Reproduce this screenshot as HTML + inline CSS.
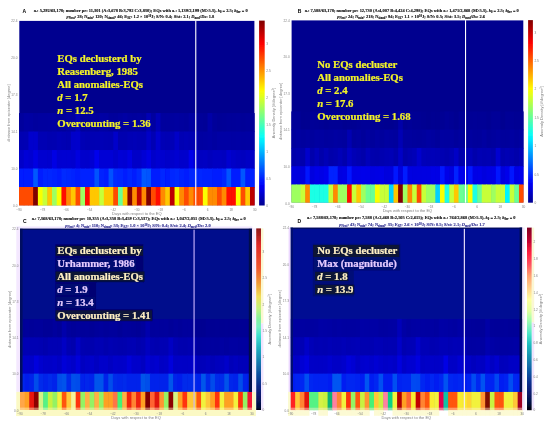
<!DOCTYPE html>
<html lang="en">
<head>
<meta charset="utf-8">
<title>Anomaly density heatmaps</title>
<style>
html,body{margin:0;padding:0;background:#fff;}
body{width:550px;height:425px;overflow:hidden;position:relative;}
svg{position:absolute;left:0;top:0;display:block;}
text{white-space:pre;}
</style>
</head>
<body>
<svg width="550" height="425" viewBox="0 0 550 425">
<defs>
<linearGradient id="gA" x1="0" y1="0" x2="0" y2="1"><stop offset="0.0000" stop-color="#800000"/><stop offset="0.0312" stop-color="#9f0000"/><stop offset="0.0625" stop-color="#be0000"/><stop offset="0.0938" stop-color="#de0000"/><stop offset="0.1250" stop-color="#fd0000"/><stop offset="0.1562" stop-color="#ff1d00"/><stop offset="0.1875" stop-color="#ff3d00"/><stop offset="0.2188" stop-color="#ff5c00"/><stop offset="0.2500" stop-color="#ff7c00"/><stop offset="0.2812" stop-color="#ff9b00"/><stop offset="0.3125" stop-color="#ffba00"/><stop offset="0.3438" stop-color="#ffda00"/><stop offset="0.3750" stop-color="#fff900"/><stop offset="0.4062" stop-color="#e5ff1a"/><stop offset="0.4375" stop-color="#c6ff39"/><stop offset="0.4688" stop-color="#a7ff58"/><stop offset="0.5000" stop-color="#87ff78"/><stop offset="0.5312" stop-color="#68ff97"/><stop offset="0.5625" stop-color="#48ffb7"/><stop offset="0.5938" stop-color="#29ffd6"/><stop offset="0.6250" stop-color="#0afff5"/><stop offset="0.6562" stop-color="#00e9ff"/><stop offset="0.6875" stop-color="#00caff"/><stop offset="0.7188" stop-color="#00aaff"/><stop offset="0.7500" stop-color="#008bff"/><stop offset="0.7812" stop-color="#006cff"/><stop offset="0.8125" stop-color="#004cff"/><stop offset="0.8438" stop-color="#002dff"/><stop offset="0.8750" stop-color="#000dff"/><stop offset="0.9062" stop-color="#0000ed"/><stop offset="0.9375" stop-color="#0000ce"/><stop offset="0.9688" stop-color="#0000ae"/><stop offset="1.0000" stop-color="#00008f"/></linearGradient>
<linearGradient id="gB" x1="0" y1="0" x2="0" y2="1"><stop offset="0.0000" stop-color="#800000"/><stop offset="0.0312" stop-color="#9f0000"/><stop offset="0.0625" stop-color="#be0000"/><stop offset="0.0938" stop-color="#de0000"/><stop offset="0.1250" stop-color="#fd0000"/><stop offset="0.1562" stop-color="#ff1d00"/><stop offset="0.1875" stop-color="#ff3d00"/><stop offset="0.2188" stop-color="#ff5c00"/><stop offset="0.2500" stop-color="#ff7c00"/><stop offset="0.2812" stop-color="#ff9b00"/><stop offset="0.3125" stop-color="#ffba00"/><stop offset="0.3438" stop-color="#ffda00"/><stop offset="0.3750" stop-color="#fff900"/><stop offset="0.4062" stop-color="#e5ff1a"/><stop offset="0.4375" stop-color="#c6ff39"/><stop offset="0.4688" stop-color="#a7ff58"/><stop offset="0.5000" stop-color="#87ff78"/><stop offset="0.5312" stop-color="#68ff97"/><stop offset="0.5625" stop-color="#48ffb7"/><stop offset="0.5938" stop-color="#29ffd6"/><stop offset="0.6250" stop-color="#0afff5"/><stop offset="0.6562" stop-color="#00e9ff"/><stop offset="0.6875" stop-color="#00caff"/><stop offset="0.7188" stop-color="#00aaff"/><stop offset="0.7500" stop-color="#008bff"/><stop offset="0.7812" stop-color="#006cff"/><stop offset="0.8125" stop-color="#004cff"/><stop offset="0.8438" stop-color="#002dff"/><stop offset="0.8750" stop-color="#000dff"/><stop offset="0.9062" stop-color="#0000ed"/><stop offset="0.9375" stop-color="#0000ce"/><stop offset="0.9688" stop-color="#0000ae"/><stop offset="1.0000" stop-color="#00008f"/></linearGradient>
<linearGradient id="gC" x1="0" y1="0" x2="0" y2="1"><stop offset="0" stop-color="#8c1818"/><stop offset="0.09" stop-color="#e02828"/><stop offset="0.22" stop-color="#f05830"/><stop offset="0.3" stop-color="#f09838"/><stop offset="0.375" stop-color="#f0dc58"/><stop offset="0.44" stop-color="#c4f07c"/><stop offset="0.5" stop-color="#84f0a0"/><stop offset="0.542" stop-color="#78f0c0"/><stop offset="0.59" stop-color="#40e0d0"/><stop offset="0.66" stop-color="#20b0c0"/><stop offset="0.73" stop-color="#1880b0"/><stop offset="0.8" stop-color="#1050a0"/><stop offset="0.87" stop-color="#102888"/><stop offset="0.928" stop-color="#081868"/><stop offset="0.987" stop-color="#040c38"/><stop offset="1" stop-color="#000008"/></linearGradient>
<linearGradient id="gD" x1="0" y1="0" x2="0" y2="1"><stop offset="0" stop-color="#800020"/><stop offset="0.072" stop-color="#c00030"/><stop offset="0.137" stop-color="#ff2040"/><stop offset="0.2" stop-color="#ff5060"/><stop offset="0.265" stop-color="#ffa070"/><stop offset="0.342" stop-color="#ffd890"/><stop offset="0.394" stop-color="#ffffa0"/><stop offset="0.459" stop-color="#e0ffa0"/><stop offset="0.51" stop-color="#a0ffb0"/><stop offset="0.535" stop-color="#88f4bc"/><stop offset="0.58" stop-color="#50e8c8"/><stop offset="0.637" stop-color="#20c0c0"/><stop offset="0.707" stop-color="#1890b0"/><stop offset="0.777" stop-color="#1060a8"/><stop offset="0.847" stop-color="#103090"/><stop offset="0.905" stop-color="#081c70"/><stop offset="0.963" stop-color="#041040"/><stop offset="0.992" stop-color="#000010"/><stop offset="1" stop-color="#000008"/></linearGradient>
<filter id="glow" x="-10%" y="-30%" width="120%" height="160%"><feGaussianBlur stdDeviation="0.5"/></filter>
<filter id="tsoft" x="-2%" y="-2%" width="104%" height="104%"><feGaussianBlur stdDeviation="0.28"/></filter>
<filter id="soft" x="-2%" y="-2%" width="104%" height="104%"><feGaussianBlur stdDeviation="0.35"/></filter>
</defs>
<rect x="0" y="0" width="550" height="425" fill="#ffffff"/>
<g filter="url(#soft)">
<rect x="19.30" y="20.90" width="235.10" height="184.30" fill="#00008f"/>
<rect x="19.00" y="113.05" width="5.31" height="18.99" fill="#00009d"/>
<rect x="23.71" y="113.05" width="5.31" height="18.99" fill="#0000a3"/>
<rect x="28.43" y="113.05" width="5.31" height="18.99" fill="#0000a2"/>
<rect x="33.14" y="113.05" width="5.31" height="18.99" fill="#00009e"/>
<rect x="37.86" y="113.05" width="5.31" height="18.99" fill="#0000a0"/>
<rect x="42.57" y="113.05" width="5.31" height="18.99" fill="#0000a0"/>
<rect x="47.28" y="113.05" width="5.31" height="18.99" fill="#0000a1"/>
<rect x="52.00" y="113.05" width="5.31" height="18.99" fill="#0000a2"/>
<rect x="56.71" y="113.05" width="5.31" height="18.99" fill="#00009d"/>
<rect x="61.43" y="113.05" width="5.31" height="18.99" fill="#00009c"/>
<rect x="66.14" y="113.05" width="5.31" height="18.99" fill="#0000a3"/>
<rect x="70.85" y="113.05" width="5.31" height="18.99" fill="#0000a0"/>
<rect x="75.57" y="113.05" width="5.31" height="18.99" fill="#0000b9"/>
<rect x="80.28" y="113.05" width="5.31" height="18.99" fill="#00009c"/>
<rect x="85.00" y="113.05" width="5.31" height="18.99" fill="#0000a0"/>
<rect x="89.71" y="113.05" width="5.31" height="18.99" fill="#0000a2"/>
<rect x="94.42" y="113.05" width="5.31" height="18.99" fill="#00009e"/>
<rect x="99.14" y="113.05" width="5.31" height="18.99" fill="#0000a4"/>
<rect x="103.85" y="113.05" width="5.31" height="18.99" fill="#0000a3"/>
<rect x="108.57" y="113.05" width="5.31" height="18.99" fill="#00009c"/>
<rect x="113.28" y="113.05" width="5.31" height="18.99" fill="#00009c"/>
<rect x="117.99" y="113.05" width="5.31" height="18.99" fill="#0000a0"/>
<rect x="122.71" y="113.05" width="5.31" height="18.99" fill="#0000a4"/>
<rect x="127.42" y="113.05" width="5.31" height="18.99" fill="#00009f"/>
<rect x="132.14" y="113.05" width="5.31" height="18.99" fill="#00009e"/>
<rect x="136.85" y="113.05" width="5.31" height="18.99" fill="#0000a0"/>
<rect x="141.56" y="113.05" width="5.31" height="18.99" fill="#00009c"/>
<rect x="146.28" y="113.05" width="5.31" height="18.99" fill="#0000b4"/>
<rect x="150.99" y="113.05" width="5.31" height="18.99" fill="#0000a0"/>
<rect x="155.71" y="113.05" width="5.31" height="18.99" fill="#0000b7"/>
<rect x="160.42" y="113.05" width="5.31" height="18.99" fill="#00009e"/>
<rect x="165.13" y="113.05" width="5.31" height="18.99" fill="#00009e"/>
<rect x="169.85" y="113.05" width="5.31" height="18.99" fill="#00009e"/>
<rect x="174.56" y="113.05" width="5.31" height="18.99" fill="#0000a0"/>
<rect x="179.28" y="113.05" width="5.31" height="18.99" fill="#00009e"/>
<rect x="183.99" y="113.05" width="5.31" height="18.99" fill="#00009c"/>
<rect x="188.70" y="113.05" width="5.31" height="18.99" fill="#0000a3"/>
<rect x="193.42" y="113.05" width="5.31" height="18.99" fill="#0000a1"/>
<rect x="198.13" y="113.05" width="5.31" height="18.99" fill="#000099"/>
<rect x="202.85" y="113.05" width="5.31" height="18.99" fill="#000097"/>
<rect x="207.56" y="113.05" width="5.31" height="18.99" fill="#0000a7"/>
<rect x="212.27" y="113.05" width="5.31" height="18.99" fill="#00009a"/>
<rect x="216.99" y="113.05" width="5.31" height="18.99" fill="#000097"/>
<rect x="221.70" y="113.05" width="5.31" height="18.99" fill="#000098"/>
<rect x="226.42" y="113.05" width="5.31" height="18.99" fill="#00009a"/>
<rect x="231.13" y="113.05" width="5.31" height="18.99" fill="#00009a"/>
<rect x="235.84" y="113.05" width="5.31" height="18.99" fill="#00009b"/>
<rect x="240.56" y="113.05" width="5.31" height="18.99" fill="#000098"/>
<rect x="245.27" y="113.05" width="5.31" height="18.99" fill="#00009a"/>
<rect x="249.99" y="113.05" width="4.71" height="18.99" fill="#000099"/>
<rect x="19.00" y="131.54" width="5.31" height="18.99" fill="#0000b2"/>
<rect x="23.71" y="131.54" width="5.31" height="18.99" fill="#0000b4"/>
<rect x="28.43" y="131.54" width="5.31" height="18.99" fill="#0000cd"/>
<rect x="33.14" y="131.54" width="5.31" height="18.99" fill="#0000cd"/>
<rect x="37.86" y="131.54" width="5.31" height="18.99" fill="#0000b4"/>
<rect x="42.57" y="131.54" width="5.31" height="18.99" fill="#0000b4"/>
<rect x="47.28" y="131.54" width="5.31" height="18.99" fill="#0000b0"/>
<rect x="52.00" y="131.54" width="5.31" height="18.99" fill="#0000b1"/>
<rect x="56.71" y="131.54" width="5.31" height="18.99" fill="#0000b6"/>
<rect x="61.43" y="131.54" width="5.31" height="18.99" fill="#0000b3"/>
<rect x="66.14" y="131.54" width="5.31" height="18.99" fill="#0000b1"/>
<rect x="70.85" y="131.54" width="5.31" height="18.99" fill="#0000ca"/>
<rect x="75.57" y="131.54" width="5.31" height="18.99" fill="#0000cc"/>
<rect x="80.28" y="131.54" width="5.31" height="18.99" fill="#0000b5"/>
<rect x="85.00" y="131.54" width="5.31" height="18.99" fill="#0000b2"/>
<rect x="89.71" y="131.54" width="5.31" height="18.99" fill="#0000b3"/>
<rect x="94.42" y="131.54" width="5.31" height="18.99" fill="#0000b4"/>
<rect x="99.14" y="131.54" width="5.31" height="18.99" fill="#0000b6"/>
<rect x="103.85" y="131.54" width="5.31" height="18.99" fill="#0000b4"/>
<rect x="108.57" y="131.54" width="5.31" height="18.99" fill="#0000b3"/>
<rect x="113.28" y="131.54" width="5.31" height="18.99" fill="#0000ca"/>
<rect x="117.99" y="131.54" width="5.31" height="18.99" fill="#0000b0"/>
<rect x="122.71" y="131.54" width="5.31" height="18.99" fill="#0000b0"/>
<rect x="127.42" y="131.54" width="5.31" height="18.99" fill="#0000b5"/>
<rect x="132.14" y="131.54" width="5.31" height="18.99" fill="#0000b7"/>
<rect x="136.85" y="131.54" width="5.31" height="18.99" fill="#0000b4"/>
<rect x="141.56" y="131.54" width="5.31" height="18.99" fill="#0000b3"/>
<rect x="146.28" y="131.54" width="5.31" height="18.99" fill="#0000c7"/>
<rect x="150.99" y="131.54" width="5.31" height="18.99" fill="#0000b4"/>
<rect x="155.71" y="131.54" width="5.31" height="18.99" fill="#0000ce"/>
<rect x="160.42" y="131.54" width="5.31" height="18.99" fill="#0000b6"/>
<rect x="165.13" y="131.54" width="5.31" height="18.99" fill="#0000b4"/>
<rect x="169.85" y="131.54" width="5.31" height="18.99" fill="#0000b6"/>
<rect x="174.56" y="131.54" width="5.31" height="18.99" fill="#0000c8"/>
<rect x="179.28" y="131.54" width="5.31" height="18.99" fill="#0000b4"/>
<rect x="183.99" y="131.54" width="5.31" height="18.99" fill="#0000b7"/>
<rect x="188.70" y="131.54" width="5.31" height="18.99" fill="#0000b4"/>
<rect x="193.42" y="131.54" width="5.31" height="18.99" fill="#0000b3"/>
<rect x="198.13" y="131.54" width="5.31" height="18.99" fill="#0000a2"/>
<rect x="202.85" y="131.54" width="5.31" height="18.99" fill="#0000a3"/>
<rect x="207.56" y="131.54" width="5.31" height="18.99" fill="#0000a5"/>
<rect x="212.27" y="131.54" width="5.31" height="18.99" fill="#0000a1"/>
<rect x="216.99" y="131.54" width="5.31" height="18.99" fill="#0000a5"/>
<rect x="221.70" y="131.54" width="5.31" height="18.99" fill="#0000a5"/>
<rect x="226.42" y="131.54" width="5.31" height="18.99" fill="#0000a5"/>
<rect x="231.13" y="131.54" width="5.31" height="18.99" fill="#0000a4"/>
<rect x="235.84" y="131.54" width="5.31" height="18.99" fill="#0000a5"/>
<rect x="240.56" y="131.54" width="5.31" height="18.99" fill="#0000a3"/>
<rect x="245.27" y="131.54" width="5.31" height="18.99" fill="#0000a4"/>
<rect x="249.99" y="131.54" width="4.71" height="18.99" fill="#0000a3"/>
<rect x="19.00" y="150.03" width="5.31" height="18.99" fill="#0000c9"/>
<rect x="23.71" y="150.03" width="5.31" height="18.99" fill="#0000d6"/>
<rect x="28.43" y="150.03" width="5.31" height="18.99" fill="#0000d1"/>
<rect x="33.14" y="150.03" width="5.31" height="18.99" fill="#0000e2"/>
<rect x="37.86" y="150.03" width="5.31" height="18.99" fill="#0000d0"/>
<rect x="42.57" y="150.03" width="5.31" height="18.99" fill="#0000d0"/>
<rect x="47.28" y="150.03" width="5.31" height="18.99" fill="#0000ce"/>
<rect x="52.00" y="150.03" width="5.31" height="18.99" fill="#0000e4"/>
<rect x="56.71" y="150.03" width="5.31" height="18.99" fill="#0000d1"/>
<rect x="61.43" y="150.03" width="5.31" height="18.99" fill="#0000d2"/>
<rect x="66.14" y="150.03" width="5.31" height="18.99" fill="#0000d2"/>
<rect x="70.85" y="150.03" width="5.31" height="18.99" fill="#0000cf"/>
<rect x="75.57" y="150.03" width="5.31" height="18.99" fill="#0000df"/>
<rect x="80.28" y="150.03" width="5.31" height="18.99" fill="#0000cc"/>
<rect x="85.00" y="150.03" width="5.31" height="18.99" fill="#0000cb"/>
<rect x="89.71" y="150.03" width="5.31" height="18.99" fill="#0000d1"/>
<rect x="94.42" y="150.03" width="5.31" height="18.99" fill="#0000ec"/>
<rect x="99.14" y="150.03" width="5.31" height="18.99" fill="#0000d5"/>
<rect x="103.85" y="150.03" width="5.31" height="18.99" fill="#0000d5"/>
<rect x="108.57" y="150.03" width="5.31" height="18.99" fill="#0000d5"/>
<rect x="113.28" y="150.03" width="5.31" height="18.99" fill="#0000cc"/>
<rect x="117.99" y="150.03" width="5.31" height="18.99" fill="#0000d6"/>
<rect x="122.71" y="150.03" width="5.31" height="18.99" fill="#0000d3"/>
<rect x="127.42" y="150.03" width="5.31" height="18.99" fill="#0000e0"/>
<rect x="132.14" y="150.03" width="5.31" height="18.99" fill="#0000c8"/>
<rect x="136.85" y="150.03" width="5.31" height="18.99" fill="#0000c8"/>
<rect x="141.56" y="150.03" width="5.31" height="18.99" fill="#0000d4"/>
<rect x="146.28" y="150.03" width="5.31" height="18.99" fill="#0000e2"/>
<rect x="150.99" y="150.03" width="5.31" height="18.99" fill="#0000ca"/>
<rect x="155.71" y="150.03" width="5.31" height="18.99" fill="#0000d2"/>
<rect x="160.42" y="150.03" width="5.31" height="18.99" fill="#0000ce"/>
<rect x="165.13" y="150.03" width="5.31" height="18.99" fill="#0000c9"/>
<rect x="169.85" y="150.03" width="5.31" height="18.99" fill="#0000cb"/>
<rect x="174.56" y="150.03" width="5.31" height="18.99" fill="#0000d1"/>
<rect x="179.28" y="150.03" width="5.31" height="18.99" fill="#0000cb"/>
<rect x="183.99" y="150.03" width="5.31" height="18.99" fill="#0000cc"/>
<rect x="188.70" y="150.03" width="5.31" height="18.99" fill="#0000ea"/>
<rect x="193.42" y="150.03" width="5.31" height="18.99" fill="#0000cf"/>
<rect x="198.13" y="150.03" width="5.31" height="18.99" fill="#0000c1"/>
<rect x="202.85" y="150.03" width="5.31" height="18.99" fill="#0000c3"/>
<rect x="207.56" y="150.03" width="5.31" height="18.99" fill="#0000bd"/>
<rect x="212.27" y="150.03" width="5.31" height="18.99" fill="#0000c2"/>
<rect x="216.99" y="150.03" width="5.31" height="18.99" fill="#0000c2"/>
<rect x="221.70" y="150.03" width="5.31" height="18.99" fill="#0000bf"/>
<rect x="226.42" y="150.03" width="5.31" height="18.99" fill="#0000d0"/>
<rect x="231.13" y="150.03" width="5.31" height="18.99" fill="#0000c8"/>
<rect x="235.84" y="150.03" width="5.31" height="18.99" fill="#0000c3"/>
<rect x="240.56" y="150.03" width="5.31" height="18.99" fill="#0000bf"/>
<rect x="245.27" y="150.03" width="5.31" height="18.99" fill="#0000c5"/>
<rect x="249.99" y="150.03" width="4.71" height="18.99" fill="#0000c7"/>
<rect x="19.00" y="168.52" width="5.31" height="18.99" fill="#001aff"/>
<rect x="23.71" y="168.52" width="5.31" height="18.99" fill="#001aff"/>
<rect x="28.43" y="168.52" width="5.31" height="18.99" fill="#001cff"/>
<rect x="33.14" y="168.52" width="5.31" height="18.99" fill="#0058ff"/>
<rect x="37.86" y="168.52" width="5.31" height="18.99" fill="#001cff"/>
<rect x="42.57" y="168.52" width="5.31" height="18.99" fill="#0025ff"/>
<rect x="47.28" y="168.52" width="5.31" height="18.99" fill="#0025ff"/>
<rect x="52.00" y="168.52" width="5.31" height="18.99" fill="#0022ff"/>
<rect x="56.71" y="168.52" width="5.31" height="18.99" fill="#001dff"/>
<rect x="61.43" y="168.52" width="5.31" height="18.99" fill="#0029ff"/>
<rect x="66.14" y="168.52" width="5.31" height="18.99" fill="#0027ff"/>
<rect x="70.85" y="168.52" width="5.31" height="18.99" fill="#0022ff"/>
<rect x="75.57" y="168.52" width="5.31" height="18.99" fill="#001dff"/>
<rect x="80.28" y="168.52" width="5.31" height="18.99" fill="#0024ff"/>
<rect x="85.00" y="168.52" width="5.31" height="18.99" fill="#0020ff"/>
<rect x="89.71" y="168.52" width="5.31" height="18.99" fill="#0023ff"/>
<rect x="94.42" y="168.52" width="5.31" height="18.99" fill="#0052ff"/>
<rect x="99.14" y="168.52" width="5.31" height="18.99" fill="#0024ff"/>
<rect x="103.85" y="168.52" width="5.31" height="18.99" fill="#001aff"/>
<rect x="108.57" y="168.52" width="5.31" height="18.99" fill="#0051ff"/>
<rect x="113.28" y="168.52" width="5.31" height="18.99" fill="#0029ff"/>
<rect x="117.99" y="168.52" width="5.31" height="18.99" fill="#0028ff"/>
<rect x="122.71" y="168.52" width="5.31" height="18.99" fill="#001fff"/>
<rect x="127.42" y="168.52" width="5.31" height="18.99" fill="#0028ff"/>
<rect x="132.14" y="168.52" width="5.31" height="18.99" fill="#001fff"/>
<rect x="136.85" y="168.52" width="5.31" height="18.99" fill="#0029ff"/>
<rect x="141.56" y="168.52" width="5.31" height="18.99" fill="#0059ff"/>
<rect x="146.28" y="168.52" width="5.31" height="18.99" fill="#0053ff"/>
<rect x="150.99" y="168.52" width="5.31" height="18.99" fill="#001eff"/>
<rect x="155.71" y="168.52" width="5.31" height="18.99" fill="#001aff"/>
<rect x="160.42" y="168.52" width="5.31" height="18.99" fill="#0028ff"/>
<rect x="165.13" y="168.52" width="5.31" height="18.99" fill="#001aff"/>
<rect x="169.85" y="168.52" width="5.31" height="18.99" fill="#0027ff"/>
<rect x="174.56" y="168.52" width="5.31" height="18.99" fill="#0029ff"/>
<rect x="179.28" y="168.52" width="5.31" height="18.99" fill="#0023ff"/>
<rect x="183.99" y="168.52" width="5.31" height="18.99" fill="#001cff"/>
<rect x="188.70" y="168.52" width="5.31" height="18.99" fill="#0028ff"/>
<rect x="193.42" y="168.52" width="5.31" height="18.99" fill="#0029ff"/>
<rect x="198.13" y="168.52" width="5.31" height="18.99" fill="#0025ff"/>
<rect x="202.85" y="168.52" width="5.31" height="18.99" fill="#0022ff"/>
<rect x="207.56" y="168.52" width="5.31" height="18.99" fill="#0020ff"/>
<rect x="212.27" y="168.52" width="5.31" height="18.99" fill="#001fff"/>
<rect x="216.99" y="168.52" width="5.31" height="18.99" fill="#001dff"/>
<rect x="221.70" y="168.52" width="5.31" height="18.99" fill="#0025ff"/>
<rect x="226.42" y="168.52" width="5.31" height="18.99" fill="#0054ff"/>
<rect x="231.13" y="168.52" width="5.31" height="18.99" fill="#001dff"/>
<rect x="235.84" y="168.52" width="5.31" height="18.99" fill="#001bff"/>
<rect x="240.56" y="168.52" width="5.31" height="18.99" fill="#0057ff"/>
<rect x="245.27" y="168.52" width="5.31" height="18.99" fill="#001eff"/>
<rect x="249.99" y="168.52" width="4.71" height="18.99" fill="#0022ff"/>
<rect x="19.00" y="187.01" width="5.31" height="18.49" fill="#ff4c00"/>
<rect x="23.71" y="187.01" width="5.31" height="18.49" fill="#ff4c00"/>
<rect x="28.43" y="187.01" width="5.31" height="18.49" fill="#ff4c00"/>
<rect x="33.14" y="187.01" width="5.31" height="18.49" fill="#800000"/>
<rect x="37.86" y="187.01" width="5.31" height="18.49" fill="#faff05"/>
<rect x="42.57" y="187.01" width="5.31" height="18.49" fill="#c7ff38"/>
<rect x="47.28" y="187.01" width="5.31" height="18.49" fill="#ffc700"/>
<rect x="52.00" y="187.01" width="5.31" height="18.49" fill="#9eff61"/>
<rect x="56.71" y="187.01" width="5.31" height="18.49" fill="#faff05"/>
<rect x="61.43" y="187.01" width="5.31" height="18.49" fill="#ff0f00"/>
<rect x="66.14" y="187.01" width="5.31" height="18.49" fill="#ff8a00"/>
<rect x="70.85" y="187.01" width="5.31" height="18.49" fill="#ffc700"/>
<rect x="75.57" y="187.01" width="5.31" height="18.49" fill="#ff4c00"/>
<rect x="80.28" y="187.01" width="5.31" height="18.49" fill="#9eff61"/>
<rect x="85.00" y="187.01" width="5.31" height="18.49" fill="#ff0f00"/>
<rect x="89.71" y="187.01" width="5.31" height="18.49" fill="#ffc700"/>
<rect x="94.42" y="187.01" width="5.31" height="18.49" fill="#ffc700"/>
<rect x="99.14" y="187.01" width="5.31" height="18.49" fill="#c7ff38"/>
<rect x="103.85" y="187.01" width="5.31" height="18.49" fill="#ffc700"/>
<rect x="108.57" y="187.01" width="5.31" height="18.49" fill="#ffc700"/>
<rect x="113.28" y="187.01" width="5.31" height="18.49" fill="#ff4c00"/>
<rect x="117.99" y="187.01" width="5.31" height="18.49" fill="#6bff94"/>
<rect x="122.71" y="187.01" width="5.31" height="18.49" fill="#ffc700"/>
<rect x="127.42" y="187.01" width="5.31" height="18.49" fill="#800000"/>
<rect x="132.14" y="187.01" width="5.31" height="18.49" fill="#ff8a00"/>
<rect x="136.85" y="187.01" width="5.31" height="18.49" fill="#bd0000"/>
<rect x="141.56" y="187.01" width="5.31" height="18.49" fill="#ff8a00"/>
<rect x="146.28" y="187.01" width="5.31" height="18.49" fill="#800000"/>
<rect x="150.99" y="187.01" width="5.31" height="18.49" fill="#ff4c00"/>
<rect x="155.71" y="187.01" width="5.31" height="18.49" fill="#ff0f00"/>
<rect x="160.42" y="187.01" width="5.31" height="18.49" fill="#ff8a00"/>
<rect x="165.13" y="187.01" width="5.31" height="18.49" fill="#ffc700"/>
<rect x="169.85" y="187.01" width="5.31" height="18.49" fill="#bd0000"/>
<rect x="174.56" y="187.01" width="5.31" height="18.49" fill="#faff05"/>
<rect x="179.28" y="187.01" width="5.31" height="18.49" fill="#ff8a00"/>
<rect x="183.99" y="187.01" width="5.31" height="18.49" fill="#ff4c00"/>
<rect x="188.70" y="187.01" width="5.31" height="18.49" fill="#ff8a00"/>
<rect x="193.42" y="187.01" width="5.31" height="18.49" fill="#ff4c00"/>
<rect x="198.13" y="187.01" width="5.31" height="18.49" fill="#ff4c00"/>
<rect x="202.85" y="187.01" width="5.31" height="18.49" fill="#faff05"/>
<rect x="207.56" y="187.01" width="5.31" height="18.49" fill="#ff8a00"/>
<rect x="212.27" y="187.01" width="5.31" height="18.49" fill="#ff8a00"/>
<rect x="216.99" y="187.01" width="5.31" height="18.49" fill="#ff4c00"/>
<rect x="221.70" y="187.01" width="5.31" height="18.49" fill="#ff8a00"/>
<rect x="226.42" y="187.01" width="5.31" height="18.49" fill="#ff0f00"/>
<rect x="231.13" y="187.01" width="5.31" height="18.49" fill="#ff0f00"/>
<rect x="235.84" y="187.01" width="5.31" height="18.49" fill="#faff05"/>
<rect x="240.56" y="187.01" width="5.31" height="18.49" fill="#ff4c00"/>
<rect x="245.27" y="187.01" width="5.31" height="18.49" fill="#ffc700"/>
<rect x="249.99" y="187.01" width="4.71" height="18.49" fill="#bd0000"/>
<rect x="195.22" y="20.60" width="1.10" height="184.90" fill="#ffffff"/>
<rect x="259.10" y="20.60" width="5.60" height="184.90" fill="url(#gA)"/>
<rect x="291.60" y="20.40" width="231.70" height="182.00" fill="#00008f"/>
<rect x="291.30" y="111.40" width="5.25" height="18.76" fill="#000098"/>
<rect x="295.95" y="111.40" width="5.25" height="18.76" fill="#000098"/>
<rect x="300.59" y="111.40" width="5.25" height="18.76" fill="#000090"/>
<rect x="305.24" y="111.40" width="5.25" height="18.76" fill="#000091"/>
<rect x="309.88" y="111.40" width="5.25" height="18.76" fill="#000097"/>
<rect x="314.53" y="111.40" width="5.25" height="18.76" fill="#000096"/>
<rect x="319.18" y="111.40" width="5.25" height="18.76" fill="#000095"/>
<rect x="323.82" y="111.40" width="5.25" height="18.76" fill="#000092"/>
<rect x="328.47" y="111.40" width="5.25" height="18.76" fill="#000095"/>
<rect x="333.11" y="111.40" width="5.25" height="18.76" fill="#000095"/>
<rect x="337.76" y="111.40" width="5.25" height="18.76" fill="#000095"/>
<rect x="342.41" y="111.40" width="5.25" height="18.76" fill="#000091"/>
<rect x="347.05" y="111.40" width="5.25" height="18.76" fill="#000093"/>
<rect x="351.70" y="111.40" width="5.25" height="18.76" fill="#000093"/>
<rect x="356.34" y="111.40" width="5.25" height="18.76" fill="#000096"/>
<rect x="360.99" y="111.40" width="5.25" height="18.76" fill="#000098"/>
<rect x="365.64" y="111.40" width="5.25" height="18.76" fill="#000098"/>
<rect x="370.28" y="111.40" width="5.25" height="18.76" fill="#000094"/>
<rect x="374.93" y="111.40" width="5.25" height="18.76" fill="#000093"/>
<rect x="379.57" y="111.40" width="5.25" height="18.76" fill="#000092"/>
<rect x="384.22" y="111.40" width="5.25" height="18.76" fill="#000090"/>
<rect x="388.87" y="111.40" width="5.25" height="18.76" fill="#000090"/>
<rect x="393.51" y="111.40" width="5.25" height="18.76" fill="#000094"/>
<rect x="398.16" y="111.40" width="5.25" height="18.76" fill="#0000a9"/>
<rect x="402.80" y="111.40" width="5.25" height="18.76" fill="#000093"/>
<rect x="407.45" y="111.40" width="5.25" height="18.76" fill="#000097"/>
<rect x="412.10" y="111.40" width="5.25" height="18.76" fill="#000094"/>
<rect x="416.74" y="111.40" width="5.25" height="18.76" fill="#000094"/>
<rect x="421.39" y="111.40" width="5.25" height="18.76" fill="#000092"/>
<rect x="426.03" y="111.40" width="5.25" height="18.76" fill="#000090"/>
<rect x="430.68" y="111.40" width="5.25" height="18.76" fill="#000092"/>
<rect x="435.33" y="111.40" width="5.25" height="18.76" fill="#000091"/>
<rect x="439.97" y="111.40" width="5.25" height="18.76" fill="#000094"/>
<rect x="444.62" y="111.40" width="5.25" height="18.76" fill="#000098"/>
<rect x="449.26" y="111.40" width="5.25" height="18.76" fill="#000095"/>
<rect x="453.91" y="111.40" width="5.25" height="18.76" fill="#000091"/>
<rect x="458.56" y="111.40" width="5.25" height="18.76" fill="#000097"/>
<rect x="463.20" y="111.40" width="5.25" height="18.76" fill="#000096"/>
<rect x="467.85" y="111.40" width="5.25" height="18.76" fill="#000096"/>
<rect x="472.49" y="111.40" width="5.25" height="18.76" fill="#000097"/>
<rect x="477.14" y="111.40" width="5.25" height="18.76" fill="#000096"/>
<rect x="481.79" y="111.40" width="5.25" height="18.76" fill="#000096"/>
<rect x="486.43" y="111.40" width="5.25" height="18.76" fill="#000093"/>
<rect x="491.08" y="111.40" width="5.25" height="18.76" fill="#000098"/>
<rect x="495.72" y="111.40" width="5.25" height="18.76" fill="#000098"/>
<rect x="500.37" y="111.40" width="5.25" height="18.76" fill="#000091"/>
<rect x="505.02" y="111.40" width="5.25" height="18.76" fill="#000096"/>
<rect x="509.66" y="111.40" width="5.25" height="18.76" fill="#000096"/>
<rect x="514.31" y="111.40" width="5.25" height="18.76" fill="#000094"/>
<rect x="518.95" y="111.40" width="4.65" height="18.76" fill="#000094"/>
<rect x="291.30" y="129.66" width="5.25" height="18.76" fill="#00009e"/>
<rect x="295.95" y="129.66" width="5.25" height="18.76" fill="#0000a2"/>
<rect x="300.59" y="129.66" width="5.25" height="18.76" fill="#00009e"/>
<rect x="305.24" y="129.66" width="5.25" height="18.76" fill="#0000a1"/>
<rect x="309.88" y="129.66" width="5.25" height="18.76" fill="#00009d"/>
<rect x="314.53" y="129.66" width="5.25" height="18.76" fill="#0000a1"/>
<rect x="319.18" y="129.66" width="5.25" height="18.76" fill="#0000a1"/>
<rect x="323.82" y="129.66" width="5.25" height="18.76" fill="#00009e"/>
<rect x="328.47" y="129.66" width="5.25" height="18.76" fill="#00009f"/>
<rect x="333.11" y="129.66" width="5.25" height="18.76" fill="#0000a2"/>
<rect x="337.76" y="129.66" width="5.25" height="18.76" fill="#0000a0"/>
<rect x="342.41" y="129.66" width="5.25" height="18.76" fill="#00009e"/>
<rect x="347.05" y="129.66" width="5.25" height="18.76" fill="#0000b2"/>
<rect x="351.70" y="129.66" width="5.25" height="18.76" fill="#00009d"/>
<rect x="356.34" y="129.66" width="5.25" height="18.76" fill="#0000a0"/>
<rect x="360.99" y="129.66" width="5.25" height="18.76" fill="#00009b"/>
<rect x="365.64" y="129.66" width="5.25" height="18.76" fill="#0000a1"/>
<rect x="370.28" y="129.66" width="5.25" height="18.76" fill="#00009c"/>
<rect x="374.93" y="129.66" width="5.25" height="18.76" fill="#0000a1"/>
<rect x="379.57" y="129.66" width="5.25" height="18.76" fill="#00009d"/>
<rect x="384.22" y="129.66" width="5.25" height="18.76" fill="#0000a2"/>
<rect x="388.87" y="129.66" width="5.25" height="18.76" fill="#0000a0"/>
<rect x="393.51" y="129.66" width="5.25" height="18.76" fill="#00009e"/>
<rect x="398.16" y="129.66" width="5.25" height="18.76" fill="#0000b5"/>
<rect x="402.80" y="129.66" width="5.25" height="18.76" fill="#00009f"/>
<rect x="407.45" y="129.66" width="5.25" height="18.76" fill="#00009f"/>
<rect x="412.10" y="129.66" width="5.25" height="18.76" fill="#00009d"/>
<rect x="416.74" y="129.66" width="5.25" height="18.76" fill="#00009c"/>
<rect x="421.39" y="129.66" width="5.25" height="18.76" fill="#00009e"/>
<rect x="426.03" y="129.66" width="5.25" height="18.76" fill="#0000a2"/>
<rect x="430.68" y="129.66" width="5.25" height="18.76" fill="#00009f"/>
<rect x="435.33" y="129.66" width="5.25" height="18.76" fill="#00009b"/>
<rect x="439.97" y="129.66" width="5.25" height="18.76" fill="#0000a1"/>
<rect x="444.62" y="129.66" width="5.25" height="18.76" fill="#0000a0"/>
<rect x="449.26" y="129.66" width="5.25" height="18.76" fill="#0000a1"/>
<rect x="453.91" y="129.66" width="5.25" height="18.76" fill="#00009c"/>
<rect x="458.56" y="129.66" width="5.25" height="18.76" fill="#0000a0"/>
<rect x="463.20" y="129.66" width="5.25" height="18.76" fill="#00009a"/>
<rect x="467.85" y="129.66" width="5.25" height="18.76" fill="#00009f"/>
<rect x="472.49" y="129.66" width="5.25" height="18.76" fill="#00009c"/>
<rect x="477.14" y="129.66" width="5.25" height="18.76" fill="#00009c"/>
<rect x="481.79" y="129.66" width="5.25" height="18.76" fill="#0000a1"/>
<rect x="486.43" y="129.66" width="5.25" height="18.76" fill="#00009b"/>
<rect x="491.08" y="129.66" width="5.25" height="18.76" fill="#00009e"/>
<rect x="495.72" y="129.66" width="5.25" height="18.76" fill="#0000a1"/>
<rect x="500.37" y="129.66" width="5.25" height="18.76" fill="#00009c"/>
<rect x="505.02" y="129.66" width="5.25" height="18.76" fill="#00009c"/>
<rect x="509.66" y="129.66" width="5.25" height="18.76" fill="#0000a1"/>
<rect x="514.31" y="129.66" width="5.25" height="18.76" fill="#00009d"/>
<rect x="518.95" y="129.66" width="4.65" height="18.76" fill="#0000a0"/>
<rect x="291.30" y="147.92" width="5.25" height="18.76" fill="#0000ab"/>
<rect x="295.95" y="147.92" width="5.25" height="18.76" fill="#0000b0"/>
<rect x="300.59" y="147.92" width="5.25" height="18.76" fill="#0000ad"/>
<rect x="305.24" y="147.92" width="5.25" height="18.76" fill="#0000cc"/>
<rect x="309.88" y="147.92" width="5.25" height="18.76" fill="#0000ac"/>
<rect x="314.53" y="147.92" width="5.25" height="18.76" fill="#0000ba"/>
<rect x="319.18" y="147.92" width="5.25" height="18.76" fill="#0000ab"/>
<rect x="323.82" y="147.92" width="5.25" height="18.76" fill="#0000b6"/>
<rect x="328.47" y="147.92" width="5.25" height="18.76" fill="#0000ab"/>
<rect x="333.11" y="147.92" width="5.25" height="18.76" fill="#0000af"/>
<rect x="337.76" y="147.92" width="5.25" height="18.76" fill="#0000b8"/>
<rect x="342.41" y="147.92" width="5.25" height="18.76" fill="#0000ad"/>
<rect x="347.05" y="147.92" width="5.25" height="18.76" fill="#0000c4"/>
<rect x="351.70" y="147.92" width="5.25" height="18.76" fill="#0000b6"/>
<rect x="356.34" y="147.92" width="5.25" height="18.76" fill="#0000b1"/>
<rect x="360.99" y="147.92" width="5.25" height="18.76" fill="#0000ab"/>
<rect x="365.64" y="147.92" width="5.25" height="18.76" fill="#0000ba"/>
<rect x="370.28" y="147.92" width="5.25" height="18.76" fill="#0000ad"/>
<rect x="374.93" y="147.92" width="5.25" height="18.76" fill="#0000ab"/>
<rect x="379.57" y="147.92" width="5.25" height="18.76" fill="#0000b0"/>
<rect x="384.22" y="147.92" width="5.25" height="18.76" fill="#0000b4"/>
<rect x="388.87" y="147.92" width="5.25" height="18.76" fill="#0000b6"/>
<rect x="393.51" y="147.92" width="5.25" height="18.76" fill="#0000ac"/>
<rect x="398.16" y="147.92" width="5.25" height="18.76" fill="#0000c6"/>
<rect x="402.80" y="147.92" width="5.25" height="18.76" fill="#0000ab"/>
<rect x="407.45" y="147.92" width="5.25" height="18.76" fill="#0000b2"/>
<rect x="412.10" y="147.92" width="5.25" height="18.76" fill="#0000b7"/>
<rect x="416.74" y="147.92" width="5.25" height="18.76" fill="#0000cd"/>
<rect x="421.39" y="147.92" width="5.25" height="18.76" fill="#0000b9"/>
<rect x="426.03" y="147.92" width="5.25" height="18.76" fill="#0000b7"/>
<rect x="430.68" y="147.92" width="5.25" height="18.76" fill="#0000b8"/>
<rect x="435.33" y="147.92" width="5.25" height="18.76" fill="#0000b6"/>
<rect x="439.97" y="147.92" width="5.25" height="18.76" fill="#0000b2"/>
<rect x="444.62" y="147.92" width="5.25" height="18.76" fill="#0000ae"/>
<rect x="449.26" y="147.92" width="5.25" height="18.76" fill="#0000b5"/>
<rect x="453.91" y="147.92" width="5.25" height="18.76" fill="#0000c6"/>
<rect x="458.56" y="147.92" width="5.25" height="18.76" fill="#0000ac"/>
<rect x="463.20" y="147.92" width="5.25" height="18.76" fill="#0000b2"/>
<rect x="467.85" y="147.92" width="5.25" height="18.76" fill="#0000b9"/>
<rect x="472.49" y="147.92" width="5.25" height="18.76" fill="#0000ac"/>
<rect x="477.14" y="147.92" width="5.25" height="18.76" fill="#0000b4"/>
<rect x="481.79" y="147.92" width="5.25" height="18.76" fill="#0000b1"/>
<rect x="486.43" y="147.92" width="5.25" height="18.76" fill="#0000b3"/>
<rect x="491.08" y="147.92" width="5.25" height="18.76" fill="#0000ad"/>
<rect x="495.72" y="147.92" width="5.25" height="18.76" fill="#0000d0"/>
<rect x="500.37" y="147.92" width="5.25" height="18.76" fill="#0000af"/>
<rect x="505.02" y="147.92" width="5.25" height="18.76" fill="#0000b4"/>
<rect x="509.66" y="147.92" width="5.25" height="18.76" fill="#0000b1"/>
<rect x="514.31" y="147.92" width="5.25" height="18.76" fill="#0000ab"/>
<rect x="518.95" y="147.92" width="4.65" height="18.76" fill="#0000b3"/>
<rect x="291.30" y="166.18" width="5.25" height="18.76" fill="#0000e0"/>
<rect x="295.95" y="166.18" width="5.25" height="18.76" fill="#0000de"/>
<rect x="300.59" y="166.18" width="5.25" height="18.76" fill="#0000de"/>
<rect x="305.24" y="166.18" width="5.25" height="18.76" fill="#0014ff"/>
<rect x="309.88" y="166.18" width="5.25" height="18.76" fill="#0000df"/>
<rect x="314.53" y="166.18" width="5.25" height="18.76" fill="#0000e8"/>
<rect x="319.18" y="166.18" width="5.25" height="18.76" fill="#0000e6"/>
<rect x="323.82" y="166.18" width="5.25" height="18.76" fill="#0000ed"/>
<rect x="328.47" y="166.18" width="5.25" height="18.76" fill="#0021ff"/>
<rect x="333.11" y="166.18" width="5.25" height="18.76" fill="#0022ff"/>
<rect x="337.76" y="166.18" width="5.25" height="18.76" fill="#0000e1"/>
<rect x="342.41" y="166.18" width="5.25" height="18.76" fill="#0000e5"/>
<rect x="347.05" y="166.18" width="5.25" height="18.76" fill="#0015ff"/>
<rect x="351.70" y="166.18" width="5.25" height="18.76" fill="#0000e7"/>
<rect x="356.34" y="166.18" width="5.25" height="18.76" fill="#0000e8"/>
<rect x="360.99" y="166.18" width="5.25" height="18.76" fill="#0000ea"/>
<rect x="365.64" y="166.18" width="5.25" height="18.76" fill="#0000e9"/>
<rect x="370.28" y="166.18" width="5.25" height="18.76" fill="#0000e2"/>
<rect x="374.93" y="166.18" width="5.25" height="18.76" fill="#0000e4"/>
<rect x="379.57" y="166.18" width="5.25" height="18.76" fill="#0000e6"/>
<rect x="384.22" y="166.18" width="5.25" height="18.76" fill="#0000dd"/>
<rect x="388.87" y="166.18" width="5.25" height="18.76" fill="#0000de"/>
<rect x="393.51" y="166.18" width="5.25" height="18.76" fill="#0018ff"/>
<rect x="398.16" y="166.18" width="5.25" height="18.76" fill="#0000df"/>
<rect x="402.80" y="166.18" width="5.25" height="18.76" fill="#001dff"/>
<rect x="407.45" y="166.18" width="5.25" height="18.76" fill="#0000e1"/>
<rect x="412.10" y="166.18" width="5.25" height="18.76" fill="#0000df"/>
<rect x="416.74" y="166.18" width="5.25" height="18.76" fill="#0000e0"/>
<rect x="421.39" y="166.18" width="5.25" height="18.76" fill="#0000e1"/>
<rect x="426.03" y="166.18" width="5.25" height="18.76" fill="#0000e1"/>
<rect x="430.68" y="166.18" width="5.25" height="18.76" fill="#0000e6"/>
<rect x="435.33" y="166.18" width="5.25" height="18.76" fill="#0000e5"/>
<rect x="439.97" y="166.18" width="5.25" height="18.76" fill="#0016ff"/>
<rect x="444.62" y="166.18" width="5.25" height="18.76" fill="#0000e8"/>
<rect x="449.26" y="166.18" width="5.25" height="18.76" fill="#0000e1"/>
<rect x="453.91" y="166.18" width="5.25" height="18.76" fill="#0020ff"/>
<rect x="458.56" y="166.18" width="5.25" height="18.76" fill="#0000ed"/>
<rect x="463.20" y="166.18" width="5.25" height="18.76" fill="#0000e9"/>
<rect x="467.85" y="166.18" width="5.25" height="18.76" fill="#0018ff"/>
<rect x="472.49" y="166.18" width="5.25" height="18.76" fill="#0000e6"/>
<rect x="477.14" y="166.18" width="5.25" height="18.76" fill="#0000e7"/>
<rect x="481.79" y="166.18" width="5.25" height="18.76" fill="#0000de"/>
<rect x="486.43" y="166.18" width="5.25" height="18.76" fill="#0000e4"/>
<rect x="491.08" y="166.18" width="5.25" height="18.76" fill="#0000e6"/>
<rect x="495.72" y="166.18" width="5.25" height="18.76" fill="#0014ff"/>
<rect x="500.37" y="166.18" width="5.25" height="18.76" fill="#0000df"/>
<rect x="505.02" y="166.18" width="5.25" height="18.76" fill="#0000ea"/>
<rect x="509.66" y="166.18" width="5.25" height="18.76" fill="#0017ff"/>
<rect x="514.31" y="166.18" width="5.25" height="18.76" fill="#0000e6"/>
<rect x="518.95" y="166.18" width="4.65" height="18.76" fill="#0000ec"/>
<rect x="291.30" y="184.44" width="5.25" height="18.26" fill="#9eff61"/>
<rect x="295.95" y="184.44" width="5.25" height="18.26" fill="#9eff61"/>
<rect x="300.59" y="184.44" width="5.25" height="18.26" fill="#c7ff38"/>
<rect x="305.24" y="184.44" width="5.25" height="18.26" fill="#ff8a00"/>
<rect x="309.88" y="184.44" width="5.25" height="18.26" fill="#1affe5"/>
<rect x="314.53" y="184.44" width="5.25" height="18.26" fill="#1affe5"/>
<rect x="319.18" y="184.44" width="5.25" height="18.26" fill="#1affe5"/>
<rect x="323.82" y="184.44" width="5.25" height="18.26" fill="#1affe5"/>
<rect x="328.47" y="184.44" width="5.25" height="18.26" fill="#c7ff38"/>
<rect x="333.11" y="184.44" width="5.25" height="18.26" fill="#ff8a00"/>
<rect x="337.76" y="184.44" width="5.25" height="18.26" fill="#9eff61"/>
<rect x="342.41" y="184.44" width="5.25" height="18.26" fill="#9eff61"/>
<rect x="347.05" y="184.44" width="5.25" height="18.26" fill="#ff0f00"/>
<rect x="351.70" y="184.44" width="5.25" height="18.26" fill="#c7ff38"/>
<rect x="356.34" y="184.44" width="5.25" height="18.26" fill="#ffc700"/>
<rect x="360.99" y="184.44" width="5.25" height="18.26" fill="#9eff61"/>
<rect x="365.64" y="184.44" width="5.25" height="18.26" fill="#6bff94"/>
<rect x="370.28" y="184.44" width="5.25" height="18.26" fill="#6bff94"/>
<rect x="374.93" y="184.44" width="5.25" height="18.26" fill="#faff05"/>
<rect x="379.57" y="184.44" width="5.25" height="18.26" fill="#c7ff38"/>
<rect x="384.22" y="184.44" width="5.25" height="18.26" fill="#c7ff38"/>
<rect x="388.87" y="184.44" width="5.25" height="18.26" fill="#00d1ff"/>
<rect x="393.51" y="184.44" width="5.25" height="18.26" fill="#ffc700"/>
<rect x="398.16" y="184.44" width="5.25" height="18.26" fill="#800000"/>
<rect x="402.80" y="184.44" width="5.25" height="18.26" fill="#9eff61"/>
<rect x="407.45" y="184.44" width="5.25" height="18.26" fill="#ff8a00"/>
<rect x="412.10" y="184.44" width="5.25" height="18.26" fill="#c7ff38"/>
<rect x="416.74" y="184.44" width="5.25" height="18.26" fill="#ff4c00"/>
<rect x="421.39" y="184.44" width="5.25" height="18.26" fill="#c7ff38"/>
<rect x="426.03" y="184.44" width="5.25" height="18.26" fill="#9eff61"/>
<rect x="430.68" y="184.44" width="5.25" height="18.26" fill="#9eff61"/>
<rect x="435.33" y="184.44" width="5.25" height="18.26" fill="#00d1ff"/>
<rect x="439.97" y="184.44" width="5.25" height="18.26" fill="#faff05"/>
<rect x="444.62" y="184.44" width="5.25" height="18.26" fill="#1affe5"/>
<rect x="449.26" y="184.44" width="5.25" height="18.26" fill="#c7ff38"/>
<rect x="453.91" y="184.44" width="5.25" height="18.26" fill="#ffc700"/>
<rect x="458.56" y="184.44" width="5.25" height="18.26" fill="#6bff94"/>
<rect x="463.20" y="184.44" width="5.25" height="18.26" fill="#6bff94"/>
<rect x="467.85" y="184.44" width="5.25" height="18.26" fill="#faff05"/>
<rect x="472.49" y="184.44" width="5.25" height="18.26" fill="#1affe5"/>
<rect x="477.14" y="184.44" width="5.25" height="18.26" fill="#6bff94"/>
<rect x="481.79" y="184.44" width="5.25" height="18.26" fill="#c7ff38"/>
<rect x="486.43" y="184.44" width="5.25" height="18.26" fill="#c7ff38"/>
<rect x="491.08" y="184.44" width="5.25" height="18.26" fill="#9eff61"/>
<rect x="495.72" y="184.44" width="5.25" height="18.26" fill="#c7ff38"/>
<rect x="500.37" y="184.44" width="5.25" height="18.26" fill="#c7ff38"/>
<rect x="505.02" y="184.44" width="5.25" height="18.26" fill="#00f5ff"/>
<rect x="509.66" y="184.44" width="5.25" height="18.26" fill="#c7ff38"/>
<rect x="514.31" y="184.44" width="5.25" height="18.26" fill="#6bff94"/>
<rect x="518.95" y="184.44" width="4.65" height="18.26" fill="#ff4c00"/>
<rect x="464.98" y="20.10" width="1.10" height="182.60" fill="#ffffff"/>
<rect x="528.10" y="20.10" width="4.80" height="182.60" fill="url(#gB)"/>
<rect x="20.30" y="228.70" width="231.50" height="181.00" fill="#06088c"/>
<rect x="20.00" y="319.20" width="5.24" height="18.66" fill="#020298"/>
<rect x="24.64" y="319.20" width="5.24" height="18.66" fill="#02029b"/>
<rect x="29.28" y="319.20" width="5.24" height="18.66" fill="#020299"/>
<rect x="33.93" y="319.20" width="5.24" height="18.66" fill="#02029b"/>
<rect x="38.57" y="319.20" width="5.24" height="18.66" fill="#02029b"/>
<rect x="43.21" y="319.20" width="5.24" height="18.66" fill="#020297"/>
<rect x="47.85" y="319.20" width="5.24" height="18.66" fill="#020297"/>
<rect x="52.49" y="319.20" width="5.24" height="18.66" fill="#02029d"/>
<rect x="57.14" y="319.20" width="5.24" height="18.66" fill="#020298"/>
<rect x="61.78" y="319.20" width="5.24" height="18.66" fill="#0202ab"/>
<rect x="66.42" y="319.20" width="5.24" height="18.66" fill="#02029d"/>
<rect x="71.06" y="319.20" width="5.24" height="18.66" fill="#02029a"/>
<rect x="75.70" y="319.20" width="5.24" height="18.66" fill="#02029d"/>
<rect x="80.35" y="319.20" width="5.24" height="18.66" fill="#02029a"/>
<rect x="84.99" y="319.20" width="5.24" height="18.66" fill="#02029b"/>
<rect x="89.63" y="319.20" width="5.24" height="18.66" fill="#020297"/>
<rect x="94.27" y="319.20" width="5.24" height="18.66" fill="#02029b"/>
<rect x="98.91" y="319.20" width="5.24" height="18.66" fill="#02029d"/>
<rect x="103.56" y="319.20" width="5.24" height="18.66" fill="#02029a"/>
<rect x="108.20" y="319.20" width="5.24" height="18.66" fill="#02029c"/>
<rect x="112.84" y="319.20" width="5.24" height="18.66" fill="#02029c"/>
<rect x="117.48" y="319.20" width="5.24" height="18.66" fill="#020297"/>
<rect x="122.12" y="319.20" width="5.24" height="18.66" fill="#02029c"/>
<rect x="126.77" y="319.20" width="5.24" height="18.66" fill="#02029b"/>
<rect x="131.41" y="319.20" width="5.24" height="18.66" fill="#020299"/>
<rect x="136.05" y="319.20" width="5.24" height="18.66" fill="#020297"/>
<rect x="140.69" y="319.20" width="5.24" height="18.66" fill="#02029d"/>
<rect x="145.33" y="319.20" width="5.24" height="18.66" fill="#0202ad"/>
<rect x="149.98" y="319.20" width="5.24" height="18.66" fill="#02029c"/>
<rect x="154.62" y="319.20" width="5.24" height="18.66" fill="#02029d"/>
<rect x="159.26" y="319.20" width="5.24" height="18.66" fill="#02029c"/>
<rect x="163.90" y="319.20" width="5.24" height="18.66" fill="#02029d"/>
<rect x="168.54" y="319.20" width="5.24" height="18.66" fill="#020299"/>
<rect x="173.19" y="319.20" width="5.24" height="18.66" fill="#02029d"/>
<rect x="177.83" y="319.20" width="5.24" height="18.66" fill="#02029a"/>
<rect x="182.47" y="319.20" width="5.24" height="18.66" fill="#02029d"/>
<rect x="187.11" y="319.20" width="5.24" height="18.66" fill="#02029d"/>
<rect x="191.75" y="319.20" width="5.24" height="18.66" fill="#020297"/>
<rect x="196.40" y="319.20" width="5.24" height="18.66" fill="#020292"/>
<rect x="201.04" y="319.20" width="5.24" height="18.66" fill="#020292"/>
<rect x="205.68" y="319.20" width="5.24" height="18.66" fill="#020296"/>
<rect x="210.32" y="319.20" width="5.24" height="18.66" fill="#020293"/>
<rect x="214.96" y="319.20" width="5.24" height="18.66" fill="#020294"/>
<rect x="219.61" y="319.20" width="5.24" height="18.66" fill="#020293"/>
<rect x="224.25" y="319.20" width="5.24" height="18.66" fill="#020294"/>
<rect x="228.89" y="319.20" width="5.24" height="18.66" fill="#020293"/>
<rect x="233.53" y="319.20" width="5.24" height="18.66" fill="#020293"/>
<rect x="238.17" y="319.20" width="5.24" height="18.66" fill="#020294"/>
<rect x="242.82" y="319.20" width="5.24" height="18.66" fill="#020294"/>
<rect x="247.46" y="319.20" width="4.64" height="18.66" fill="#020295"/>
<rect x="20.00" y="337.36" width="5.24" height="18.66" fill="#0202b2"/>
<rect x="24.64" y="337.36" width="5.24" height="18.66" fill="#0202b4"/>
<rect x="29.28" y="337.36" width="5.24" height="18.66" fill="#0202b4"/>
<rect x="33.93" y="337.36" width="5.24" height="18.66" fill="#0202b4"/>
<rect x="38.57" y="337.36" width="5.24" height="18.66" fill="#0202b2"/>
<rect x="43.21" y="337.36" width="5.24" height="18.66" fill="#0202ae"/>
<rect x="47.85" y="337.36" width="5.24" height="18.66" fill="#0202b4"/>
<rect x="52.49" y="337.36" width="5.24" height="18.66" fill="#0202b4"/>
<rect x="57.14" y="337.36" width="5.24" height="18.66" fill="#0202b4"/>
<rect x="61.78" y="337.36" width="5.24" height="18.66" fill="#0202c4"/>
<rect x="66.42" y="337.36" width="5.24" height="18.66" fill="#0202b2"/>
<rect x="71.06" y="337.36" width="5.24" height="18.66" fill="#0202ae"/>
<rect x="75.70" y="337.36" width="5.24" height="18.66" fill="#0202c6"/>
<rect x="80.35" y="337.36" width="5.24" height="18.66" fill="#0202b1"/>
<rect x="84.99" y="337.36" width="5.24" height="18.66" fill="#0202af"/>
<rect x="89.63" y="337.36" width="5.24" height="18.66" fill="#0202ae"/>
<rect x="94.27" y="337.36" width="5.24" height="18.66" fill="#0202b4"/>
<rect x="98.91" y="337.36" width="5.24" height="18.66" fill="#0202b4"/>
<rect x="103.56" y="337.36" width="5.24" height="18.66" fill="#0202ae"/>
<rect x="108.20" y="337.36" width="5.24" height="18.66" fill="#0202b3"/>
<rect x="112.84" y="337.36" width="5.24" height="18.66" fill="#0202b0"/>
<rect x="117.48" y="337.36" width="5.24" height="18.66" fill="#0202ae"/>
<rect x="122.12" y="337.36" width="5.24" height="18.66" fill="#0202af"/>
<rect x="126.77" y="337.36" width="5.24" height="18.66" fill="#0202b3"/>
<rect x="131.41" y="337.36" width="5.24" height="18.66" fill="#0202b4"/>
<rect x="136.05" y="337.36" width="5.24" height="18.66" fill="#0202ae"/>
<rect x="140.69" y="337.36" width="5.24" height="18.66" fill="#0202b2"/>
<rect x="145.33" y="337.36" width="5.24" height="18.66" fill="#0202c0"/>
<rect x="149.98" y="337.36" width="5.24" height="18.66" fill="#0202b2"/>
<rect x="154.62" y="337.36" width="5.24" height="18.66" fill="#0202af"/>
<rect x="159.26" y="337.36" width="5.24" height="18.66" fill="#0202b4"/>
<rect x="163.90" y="337.36" width="5.24" height="18.66" fill="#0202b4"/>
<rect x="168.54" y="337.36" width="5.24" height="18.66" fill="#0202c4"/>
<rect x="173.19" y="337.36" width="5.24" height="18.66" fill="#0202b4"/>
<rect x="177.83" y="337.36" width="5.24" height="18.66" fill="#0202af"/>
<rect x="182.47" y="337.36" width="5.24" height="18.66" fill="#0202ae"/>
<rect x="187.11" y="337.36" width="5.24" height="18.66" fill="#0202b1"/>
<rect x="191.75" y="337.36" width="5.24" height="18.66" fill="#0202ae"/>
<rect x="196.40" y="337.36" width="5.24" height="18.66" fill="#02029f"/>
<rect x="201.04" y="337.36" width="5.24" height="18.66" fill="#0202a0"/>
<rect x="205.68" y="337.36" width="5.24" height="18.66" fill="#0202a1"/>
<rect x="210.32" y="337.36" width="5.24" height="18.66" fill="#02029f"/>
<rect x="214.96" y="337.36" width="5.24" height="18.66" fill="#02029e"/>
<rect x="219.61" y="337.36" width="5.24" height="18.66" fill="#0202a2"/>
<rect x="224.25" y="337.36" width="5.24" height="18.66" fill="#02029f"/>
<rect x="228.89" y="337.36" width="5.24" height="18.66" fill="#0202a2"/>
<rect x="233.53" y="337.36" width="5.24" height="18.66" fill="#0202a2"/>
<rect x="238.17" y="337.36" width="5.24" height="18.66" fill="#0202a0"/>
<rect x="242.82" y="337.36" width="5.24" height="18.66" fill="#0202a0"/>
<rect x="247.46" y="337.36" width="4.64" height="18.66" fill="#0202a0"/>
<rect x="20.00" y="355.52" width="5.24" height="18.66" fill="#0202ca"/>
<rect x="24.64" y="355.52" width="5.24" height="18.66" fill="#0202ca"/>
<rect x="29.28" y="355.52" width="5.24" height="18.66" fill="#0202c9"/>
<rect x="33.93" y="355.52" width="5.24" height="18.66" fill="#0202dd"/>
<rect x="38.57" y="355.52" width="5.24" height="18.66" fill="#0202ce"/>
<rect x="43.21" y="355.52" width="5.24" height="18.66" fill="#0202c8"/>
<rect x="47.85" y="355.52" width="5.24" height="18.66" fill="#0202c7"/>
<rect x="52.49" y="355.52" width="5.24" height="18.66" fill="#0202cb"/>
<rect x="57.14" y="355.52" width="5.24" height="18.66" fill="#0202c4"/>
<rect x="61.78" y="355.52" width="5.24" height="18.66" fill="#0202d8"/>
<rect x="66.42" y="355.52" width="5.24" height="18.66" fill="#0202cf"/>
<rect x="71.06" y="355.52" width="5.24" height="18.66" fill="#0202c9"/>
<rect x="75.70" y="355.52" width="5.24" height="18.66" fill="#0202db"/>
<rect x="80.35" y="355.52" width="5.24" height="18.66" fill="#0202c1"/>
<rect x="84.99" y="355.52" width="5.24" height="18.66" fill="#0202c7"/>
<rect x="89.63" y="355.52" width="5.24" height="18.66" fill="#0202ca"/>
<rect x="94.27" y="355.52" width="5.24" height="18.66" fill="#0202c1"/>
<rect x="98.91" y="355.52" width="5.24" height="18.66" fill="#0202ca"/>
<rect x="103.56" y="355.52" width="5.24" height="18.66" fill="#0202ca"/>
<rect x="108.20" y="355.52" width="5.24" height="18.66" fill="#0202c2"/>
<rect x="112.84" y="355.52" width="5.24" height="18.66" fill="#0202ca"/>
<rect x="117.48" y="355.52" width="5.24" height="18.66" fill="#0202c8"/>
<rect x="122.12" y="355.52" width="5.24" height="18.66" fill="#0202ca"/>
<rect x="126.77" y="355.52" width="5.24" height="18.66" fill="#0202d9"/>
<rect x="131.41" y="355.52" width="5.24" height="18.66" fill="#0202cb"/>
<rect x="136.05" y="355.52" width="5.24" height="18.66" fill="#0202cb"/>
<rect x="140.69" y="355.52" width="5.24" height="18.66" fill="#0202c1"/>
<rect x="145.33" y="355.52" width="5.24" height="18.66" fill="#0202d5"/>
<rect x="149.98" y="355.52" width="5.24" height="18.66" fill="#0202ca"/>
<rect x="154.62" y="355.52" width="5.24" height="18.66" fill="#0202cf"/>
<rect x="159.26" y="355.52" width="5.24" height="18.66" fill="#0202c4"/>
<rect x="163.90" y="355.52" width="5.24" height="18.66" fill="#0202c7"/>
<rect x="168.54" y="355.52" width="5.24" height="18.66" fill="#0202dc"/>
<rect x="173.19" y="355.52" width="5.24" height="18.66" fill="#0202c5"/>
<rect x="177.83" y="355.52" width="5.24" height="18.66" fill="#0202c6"/>
<rect x="182.47" y="355.52" width="5.24" height="18.66" fill="#0202c5"/>
<rect x="187.11" y="355.52" width="5.24" height="18.66" fill="#0202c6"/>
<rect x="191.75" y="355.52" width="5.24" height="18.66" fill="#0202ca"/>
<rect x="196.40" y="355.52" width="5.24" height="18.66" fill="#0202b9"/>
<rect x="201.04" y="355.52" width="5.24" height="18.66" fill="#0202ba"/>
<rect x="205.68" y="355.52" width="5.24" height="18.66" fill="#0202bf"/>
<rect x="210.32" y="355.52" width="5.24" height="18.66" fill="#0202b7"/>
<rect x="214.96" y="355.52" width="5.24" height="18.66" fill="#0202bd"/>
<rect x="219.61" y="355.52" width="5.24" height="18.66" fill="#0202bf"/>
<rect x="224.25" y="355.52" width="5.24" height="18.66" fill="#0202ca"/>
<rect x="228.89" y="355.52" width="5.24" height="18.66" fill="#0202b9"/>
<rect x="233.53" y="355.52" width="5.24" height="18.66" fill="#0202bf"/>
<rect x="238.17" y="355.52" width="5.24" height="18.66" fill="#0202b9"/>
<rect x="242.82" y="355.52" width="5.24" height="18.66" fill="#0202b9"/>
<rect x="247.46" y="355.52" width="4.64" height="18.66" fill="#0202bb"/>
<rect x="20.00" y="373.68" width="5.24" height="18.66" fill="#0228eb"/>
<rect x="24.64" y="373.68" width="5.24" height="18.66" fill="#021feb"/>
<rect x="29.28" y="373.68" width="5.24" height="18.66" fill="#0223eb"/>
<rect x="33.93" y="373.68" width="5.24" height="18.66" fill="#024eeb"/>
<rect x="38.57" y="373.68" width="5.24" height="18.66" fill="#022aeb"/>
<rect x="43.21" y="373.68" width="5.24" height="18.66" fill="#0224eb"/>
<rect x="47.85" y="373.68" width="5.24" height="18.66" fill="#022aeb"/>
<rect x="52.49" y="373.68" width="5.24" height="18.66" fill="#0220eb"/>
<rect x="57.14" y="373.68" width="5.24" height="18.66" fill="#024eeb"/>
<rect x="61.78" y="373.68" width="5.24" height="18.66" fill="#0252eb"/>
<rect x="66.42" y="373.68" width="5.24" height="18.66" fill="#022aeb"/>
<rect x="71.06" y="373.68" width="5.24" height="18.66" fill="#0250eb"/>
<rect x="75.70" y="373.68" width="5.24" height="18.66" fill="#024ceb"/>
<rect x="80.35" y="373.68" width="5.24" height="18.66" fill="#0220eb"/>
<rect x="84.99" y="373.68" width="5.24" height="18.66" fill="#0225eb"/>
<rect x="89.63" y="373.68" width="5.24" height="18.66" fill="#0221eb"/>
<rect x="94.27" y="373.68" width="5.24" height="18.66" fill="#0255eb"/>
<rect x="98.91" y="373.68" width="5.24" height="18.66" fill="#0255eb"/>
<rect x="103.56" y="373.68" width="5.24" height="18.66" fill="#0221eb"/>
<rect x="108.20" y="373.68" width="5.24" height="18.66" fill="#024deb"/>
<rect x="112.84" y="373.68" width="5.24" height="18.66" fill="#022aeb"/>
<rect x="117.48" y="373.68" width="5.24" height="18.66" fill="#0227eb"/>
<rect x="122.12" y="373.68" width="5.24" height="18.66" fill="#022aeb"/>
<rect x="126.77" y="373.68" width="5.24" height="18.66" fill="#0223eb"/>
<rect x="131.41" y="373.68" width="5.24" height="18.66" fill="#0220eb"/>
<rect x="136.05" y="373.68" width="5.24" height="18.66" fill="#0222eb"/>
<rect x="140.69" y="373.68" width="5.24" height="18.66" fill="#0255eb"/>
<rect x="145.33" y="373.68" width="5.24" height="18.66" fill="#024deb"/>
<rect x="149.98" y="373.68" width="5.24" height="18.66" fill="#0223eb"/>
<rect x="154.62" y="373.68" width="5.24" height="18.66" fill="#0224eb"/>
<rect x="159.26" y="373.68" width="5.24" height="18.66" fill="#0224eb"/>
<rect x="163.90" y="373.68" width="5.24" height="18.66" fill="#0224eb"/>
<rect x="168.54" y="373.68" width="5.24" height="18.66" fill="#0257eb"/>
<rect x="173.19" y="373.68" width="5.24" height="18.66" fill="#0220eb"/>
<rect x="177.83" y="373.68" width="5.24" height="18.66" fill="#021eeb"/>
<rect x="182.47" y="373.68" width="5.24" height="18.66" fill="#022beb"/>
<rect x="187.11" y="373.68" width="5.24" height="18.66" fill="#022aeb"/>
<rect x="191.75" y="373.68" width="5.24" height="18.66" fill="#022ceb"/>
<rect x="196.40" y="373.68" width="5.24" height="18.66" fill="#0224eb"/>
<rect x="201.04" y="373.68" width="5.24" height="18.66" fill="#0257eb"/>
<rect x="205.68" y="373.68" width="5.24" height="18.66" fill="#022beb"/>
<rect x="210.32" y="373.68" width="5.24" height="18.66" fill="#024ceb"/>
<rect x="214.96" y="373.68" width="5.24" height="18.66" fill="#0229eb"/>
<rect x="219.61" y="373.68" width="5.24" height="18.66" fill="#022aeb"/>
<rect x="224.25" y="373.68" width="5.24" height="18.66" fill="#0252eb"/>
<rect x="228.89" y="373.68" width="5.24" height="18.66" fill="#0225eb"/>
<rect x="233.53" y="373.68" width="5.24" height="18.66" fill="#0222eb"/>
<rect x="238.17" y="373.68" width="5.24" height="18.66" fill="#024eeb"/>
<rect x="242.82" y="373.68" width="5.24" height="18.66" fill="#0221eb"/>
<rect x="247.46" y="373.68" width="4.64" height="18.66" fill="#021feb"/>
<rect x="20.00" y="391.84" width="5.24" height="18.16" fill="#ffa648"/>
<rect x="24.64" y="391.84" width="5.24" height="18.16" fill="#ffa024"/>
<rect x="29.28" y="391.84" width="5.24" height="18.16" fill="#e81808"/>
<rect x="33.93" y="391.84" width="5.24" height="18.16" fill="#8c0000"/>
<rect x="38.57" y="391.84" width="5.24" height="18.16" fill="#d4f284"/>
<rect x="43.21" y="391.84" width="5.24" height="18.16" fill="#54f284"/>
<rect x="47.85" y="391.84" width="5.24" height="18.16" fill="#c8f240"/>
<rect x="52.49" y="391.84" width="5.24" height="18.16" fill="#94f264"/>
<rect x="57.14" y="391.84" width="5.24" height="18.16" fill="#f2f23c"/>
<rect x="61.78" y="391.84" width="5.24" height="18.16" fill="#ff5410"/>
<rect x="66.42" y="391.84" width="5.24" height="18.16" fill="#ffc838"/>
<rect x="71.06" y="391.84" width="5.24" height="18.16" fill="#f4f29a"/>
<rect x="75.70" y="391.84" width="5.24" height="18.16" fill="#ff3208"/>
<rect x="80.35" y="391.84" width="5.24" height="18.16" fill="#94f264"/>
<rect x="84.99" y="391.84" width="5.24" height="18.16" fill="#ffb044"/>
<rect x="89.63" y="391.84" width="5.24" height="18.16" fill="#94f264"/>
<rect x="94.27" y="391.84" width="5.24" height="18.16" fill="#ffb044"/>
<rect x="98.91" y="391.84" width="5.24" height="18.16" fill="#94f264"/>
<rect x="103.56" y="391.84" width="5.24" height="18.16" fill="#ffa024"/>
<rect x="108.20" y="391.84" width="5.24" height="18.16" fill="#ffa024"/>
<rect x="112.84" y="391.84" width="5.24" height="18.16" fill="#ff7444"/>
<rect x="117.48" y="391.84" width="5.24" height="18.16" fill="#44f274"/>
<rect x="122.12" y="391.84" width="5.24" height="18.16" fill="#ffb044"/>
<rect x="126.77" y="391.84" width="5.24" height="18.16" fill="#f02410"/>
<rect x="131.41" y="391.84" width="5.24" height="18.16" fill="#ff8430"/>
<rect x="136.05" y="391.84" width="5.24" height="18.16" fill="#f02410"/>
<rect x="140.69" y="391.84" width="5.24" height="18.16" fill="#ffa024"/>
<rect x="145.33" y="391.84" width="5.24" height="18.16" fill="#800000"/>
<rect x="149.98" y="391.84" width="5.24" height="18.16" fill="#ff6430"/>
<rect x="154.62" y="391.84" width="5.24" height="18.16" fill="#e01410"/>
<rect x="159.26" y="391.84" width="5.24" height="18.16" fill="#ff9430"/>
<rect x="163.90" y="391.84" width="5.24" height="18.16" fill="#94f264"/>
<rect x="168.54" y="391.84" width="5.24" height="18.16" fill="#8c0000"/>
<rect x="173.19" y="391.84" width="5.24" height="18.16" fill="#d4f284"/>
<rect x="177.83" y="391.84" width="5.24" height="18.16" fill="#ffa024"/>
<rect x="182.47" y="391.84" width="5.24" height="18.16" fill="#ff3208"/>
<rect x="187.11" y="391.84" width="5.24" height="18.16" fill="#ffc838"/>
<rect x="191.75" y="391.84" width="5.24" height="18.16" fill="#ffc838"/>
<rect x="196.40" y="391.84" width="5.24" height="18.16" fill="#ff5410"/>
<rect x="201.04" y="391.84" width="5.24" height="18.16" fill="#f2f23c"/>
<rect x="205.68" y="391.84" width="5.24" height="18.16" fill="#ffc838"/>
<rect x="210.32" y="391.84" width="5.24" height="18.16" fill="#ffa024"/>
<rect x="214.96" y="391.84" width="5.24" height="18.16" fill="#ff3208"/>
<rect x="219.61" y="391.84" width="5.24" height="18.16" fill="#f2f23c"/>
<rect x="224.25" y="391.84" width="5.24" height="18.16" fill="#ffa024"/>
<rect x="228.89" y="391.84" width="5.24" height="18.16" fill="#ffa024"/>
<rect x="233.53" y="391.84" width="5.24" height="18.16" fill="#f2f23c"/>
<rect x="238.17" y="391.84" width="5.24" height="18.16" fill="#ff3208"/>
<rect x="242.82" y="391.84" width="5.24" height="18.16" fill="#94f264"/>
<rect x="247.46" y="391.84" width="4.64" height="18.16" fill="#f01434"/>
<rect x="193.52" y="228.40" width="1.10" height="181.60" fill="#c8b8ff"/>
<rect x="256.20" y="228.40" width="4.80" height="181.60" fill="url(#gC)"/>
<rect x="290.80" y="227.90" width="231.20" height="182.00" fill="#050c93"/>
<rect x="290.50" y="318.90" width="5.24" height="18.76" fill="#0104a1"/>
<rect x="295.14" y="318.90" width="5.24" height="18.76" fill="#0104a0"/>
<rect x="299.77" y="318.90" width="5.24" height="18.76" fill="#0104a1"/>
<rect x="304.41" y="318.90" width="5.24" height="18.76" fill="#0104a0"/>
<rect x="309.04" y="318.90" width="5.24" height="18.76" fill="#0104a0"/>
<rect x="313.68" y="318.90" width="5.24" height="18.76" fill="#0104a1"/>
<rect x="318.32" y="318.90" width="5.24" height="18.76" fill="#0104a6"/>
<rect x="322.95" y="318.90" width="5.24" height="18.76" fill="#0104a5"/>
<rect x="327.59" y="318.90" width="5.24" height="18.76" fill="#0104a4"/>
<rect x="332.22" y="318.90" width="5.24" height="18.76" fill="#0104a1"/>
<rect x="336.86" y="318.90" width="5.24" height="18.76" fill="#0104a3"/>
<rect x="341.50" y="318.90" width="5.24" height="18.76" fill="#0104a1"/>
<rect x="346.13" y="318.90" width="5.24" height="18.76" fill="#0104a1"/>
<rect x="350.77" y="318.90" width="5.24" height="18.76" fill="#0104a0"/>
<rect x="355.40" y="318.90" width="5.24" height="18.76" fill="#0104a1"/>
<rect x="360.04" y="318.90" width="5.24" height="18.76" fill="#0104a6"/>
<rect x="364.68" y="318.90" width="5.24" height="18.76" fill="#0104a5"/>
<rect x="369.31" y="318.90" width="5.24" height="18.76" fill="#0104a5"/>
<rect x="373.95" y="318.90" width="5.24" height="18.76" fill="#0104a5"/>
<rect x="378.58" y="318.90" width="5.24" height="18.76" fill="#0104a1"/>
<rect x="383.22" y="318.90" width="5.24" height="18.76" fill="#0104a1"/>
<rect x="387.86" y="318.90" width="5.24" height="18.76" fill="#0104a3"/>
<rect x="392.49" y="318.90" width="5.24" height="18.76" fill="#0104a4"/>
<rect x="397.13" y="318.90" width="5.24" height="18.76" fill="#0104b9"/>
<rect x="401.76" y="318.90" width="5.24" height="18.76" fill="#0104a5"/>
<rect x="406.40" y="318.90" width="5.24" height="18.76" fill="#0104a0"/>
<rect x="411.04" y="318.90" width="5.24" height="18.76" fill="#0104a3"/>
<rect x="415.67" y="318.90" width="5.24" height="18.76" fill="#0104a4"/>
<rect x="420.31" y="318.90" width="5.24" height="18.76" fill="#0104a2"/>
<rect x="424.94" y="318.90" width="5.24" height="18.76" fill="#0104a1"/>
<rect x="429.58" y="318.90" width="5.24" height="18.76" fill="#0104a2"/>
<rect x="434.22" y="318.90" width="5.24" height="18.76" fill="#0104a0"/>
<rect x="438.85" y="318.90" width="5.24" height="18.76" fill="#0104a6"/>
<rect x="443.49" y="318.90" width="5.24" height="18.76" fill="#0104a5"/>
<rect x="448.12" y="318.90" width="5.24" height="18.76" fill="#0104a3"/>
<rect x="452.76" y="318.90" width="5.24" height="18.76" fill="#0104a1"/>
<rect x="457.40" y="318.90" width="5.24" height="18.76" fill="#0104a6"/>
<rect x="462.03" y="318.90" width="5.24" height="18.76" fill="#0104a3"/>
<rect x="466.67" y="318.90" width="5.24" height="18.76" fill="#01049c"/>
<rect x="471.30" y="318.90" width="5.24" height="18.76" fill="#01049b"/>
<rect x="475.94" y="318.90" width="5.24" height="18.76" fill="#01049a"/>
<rect x="480.58" y="318.90" width="5.24" height="18.76" fill="#01049a"/>
<rect x="485.21" y="318.90" width="5.24" height="18.76" fill="#0104a6"/>
<rect x="489.85" y="318.90" width="5.24" height="18.76" fill="#01049a"/>
<rect x="494.48" y="318.90" width="5.24" height="18.76" fill="#010499"/>
<rect x="499.12" y="318.90" width="5.24" height="18.76" fill="#01049a"/>
<rect x="503.76" y="318.90" width="5.24" height="18.76" fill="#01049b"/>
<rect x="508.39" y="318.90" width="5.24" height="18.76" fill="#010499"/>
<rect x="513.03" y="318.90" width="5.24" height="18.76" fill="#010499"/>
<rect x="517.66" y="318.90" width="4.64" height="18.76" fill="#01049a"/>
<rect x="290.50" y="337.16" width="5.24" height="18.76" fill="#0104b3"/>
<rect x="295.14" y="337.16" width="5.24" height="18.76" fill="#0104b5"/>
<rect x="299.77" y="337.16" width="5.24" height="18.76" fill="#0104b4"/>
<rect x="304.41" y="337.16" width="5.24" height="18.76" fill="#0104c7"/>
<rect x="309.04" y="337.16" width="5.24" height="18.76" fill="#0104b8"/>
<rect x="313.68" y="337.16" width="5.24" height="18.76" fill="#0104b2"/>
<rect x="318.32" y="337.16" width="5.24" height="18.76" fill="#0104b4"/>
<rect x="322.95" y="337.16" width="5.24" height="18.76" fill="#0104b2"/>
<rect x="327.59" y="337.16" width="5.24" height="18.76" fill="#0104b6"/>
<rect x="332.22" y="337.16" width="5.24" height="18.76" fill="#0104b3"/>
<rect x="336.86" y="337.16" width="5.24" height="18.76" fill="#0104b3"/>
<rect x="341.50" y="337.16" width="5.24" height="18.76" fill="#0104b7"/>
<rect x="346.13" y="337.16" width="5.24" height="18.76" fill="#0104b3"/>
<rect x="350.77" y="337.16" width="5.24" height="18.76" fill="#0104b5"/>
<rect x="355.40" y="337.16" width="5.24" height="18.76" fill="#0104b7"/>
<rect x="360.04" y="337.16" width="5.24" height="18.76" fill="#0104b1"/>
<rect x="364.68" y="337.16" width="5.24" height="18.76" fill="#0104b1"/>
<rect x="369.31" y="337.16" width="5.24" height="18.76" fill="#0104b2"/>
<rect x="373.95" y="337.16" width="5.24" height="18.76" fill="#0104b7"/>
<rect x="378.58" y="337.16" width="5.24" height="18.76" fill="#0104b6"/>
<rect x="383.22" y="337.16" width="5.24" height="18.76" fill="#0104b2"/>
<rect x="387.86" y="337.16" width="5.24" height="18.76" fill="#0104b3"/>
<rect x="392.49" y="337.16" width="5.24" height="18.76" fill="#0104b2"/>
<rect x="397.13" y="337.16" width="5.24" height="18.76" fill="#0104c8"/>
<rect x="401.76" y="337.16" width="5.24" height="18.76" fill="#0104b1"/>
<rect x="406.40" y="337.16" width="5.24" height="18.76" fill="#0104b6"/>
<rect x="411.04" y="337.16" width="5.24" height="18.76" fill="#0104b7"/>
<rect x="415.67" y="337.16" width="5.24" height="18.76" fill="#0104cc"/>
<rect x="420.31" y="337.16" width="5.24" height="18.76" fill="#0104b7"/>
<rect x="424.94" y="337.16" width="5.24" height="18.76" fill="#0104b7"/>
<rect x="429.58" y="337.16" width="5.24" height="18.76" fill="#0104b1"/>
<rect x="434.22" y="337.16" width="5.24" height="18.76" fill="#0104b3"/>
<rect x="438.85" y="337.16" width="5.24" height="18.76" fill="#0104b7"/>
<rect x="443.49" y="337.16" width="5.24" height="18.76" fill="#0104b7"/>
<rect x="448.12" y="337.16" width="5.24" height="18.76" fill="#0104b4"/>
<rect x="452.76" y="337.16" width="5.24" height="18.76" fill="#0104b7"/>
<rect x="457.40" y="337.16" width="5.24" height="18.76" fill="#0104b6"/>
<rect x="462.03" y="337.16" width="5.24" height="18.76" fill="#0104b7"/>
<rect x="466.67" y="337.16" width="5.24" height="18.76" fill="#0104a3"/>
<rect x="471.30" y="337.16" width="5.24" height="18.76" fill="#0104a3"/>
<rect x="475.94" y="337.16" width="5.24" height="18.76" fill="#0104a4"/>
<rect x="480.58" y="337.16" width="5.24" height="18.76" fill="#0104a2"/>
<rect x="485.21" y="337.16" width="5.24" height="18.76" fill="#0104af"/>
<rect x="489.85" y="337.16" width="5.24" height="18.76" fill="#0104a6"/>
<rect x="494.48" y="337.16" width="5.24" height="18.76" fill="#0104a3"/>
<rect x="499.12" y="337.16" width="5.24" height="18.76" fill="#0104a2"/>
<rect x="503.76" y="337.16" width="5.24" height="18.76" fill="#0104a2"/>
<rect x="508.39" y="337.16" width="5.24" height="18.76" fill="#0104a3"/>
<rect x="513.03" y="337.16" width="5.24" height="18.76" fill="#0104a5"/>
<rect x="517.66" y="337.16" width="4.64" height="18.76" fill="#0104a3"/>
<rect x="290.50" y="355.42" width="5.24" height="18.76" fill="#0104c9"/>
<rect x="295.14" y="355.42" width="5.24" height="18.76" fill="#0104c6"/>
<rect x="299.77" y="355.42" width="5.24" height="18.76" fill="#0104d3"/>
<rect x="304.41" y="355.42" width="5.24" height="18.76" fill="#0104de"/>
<rect x="309.04" y="355.42" width="5.24" height="18.76" fill="#0104c7"/>
<rect x="313.68" y="355.42" width="5.24" height="18.76" fill="#0104c6"/>
<rect x="318.32" y="355.42" width="5.24" height="18.76" fill="#0104c6"/>
<rect x="322.95" y="355.42" width="5.24" height="18.76" fill="#0104c7"/>
<rect x="327.59" y="355.42" width="5.24" height="18.76" fill="#0104ce"/>
<rect x="332.22" y="355.42" width="5.24" height="18.76" fill="#0104c6"/>
<rect x="336.86" y="355.42" width="5.24" height="18.76" fill="#0104c6"/>
<rect x="341.50" y="355.42" width="5.24" height="18.76" fill="#0104cc"/>
<rect x="346.13" y="355.42" width="5.24" height="18.76" fill="#0104dc"/>
<rect x="350.77" y="355.42" width="5.24" height="18.76" fill="#0104d3"/>
<rect x="355.40" y="355.42" width="5.24" height="18.76" fill="#0104c6"/>
<rect x="360.04" y="355.42" width="5.24" height="18.76" fill="#0104cd"/>
<rect x="364.68" y="355.42" width="5.24" height="18.76" fill="#0104d0"/>
<rect x="369.31" y="355.42" width="5.24" height="18.76" fill="#0104cb"/>
<rect x="373.95" y="355.42" width="5.24" height="18.76" fill="#0104d3"/>
<rect x="378.58" y="355.42" width="5.24" height="18.76" fill="#0104cc"/>
<rect x="383.22" y="355.42" width="5.24" height="18.76" fill="#0104c8"/>
<rect x="387.86" y="355.42" width="5.24" height="18.76" fill="#0104cb"/>
<rect x="392.49" y="355.42" width="5.24" height="18.76" fill="#0104c6"/>
<rect x="397.13" y="355.42" width="5.24" height="18.76" fill="#0104de"/>
<rect x="401.76" y="355.42" width="5.24" height="18.76" fill="#0104c8"/>
<rect x="406.40" y="355.42" width="5.24" height="18.76" fill="#0104d1"/>
<rect x="411.04" y="355.42" width="5.24" height="18.76" fill="#0104d1"/>
<rect x="415.67" y="355.42" width="5.24" height="18.76" fill="#0104e0"/>
<rect x="420.31" y="355.42" width="5.24" height="18.76" fill="#0104c5"/>
<rect x="424.94" y="355.42" width="5.24" height="18.76" fill="#0104c8"/>
<rect x="429.58" y="355.42" width="5.24" height="18.76" fill="#0104c8"/>
<rect x="434.22" y="355.42" width="5.24" height="18.76" fill="#0104c7"/>
<rect x="438.85" y="355.42" width="5.24" height="18.76" fill="#0104c8"/>
<rect x="443.49" y="355.42" width="5.24" height="18.76" fill="#0104e5"/>
<rect x="448.12" y="355.42" width="5.24" height="18.76" fill="#0104c6"/>
<rect x="452.76" y="355.42" width="5.24" height="18.76" fill="#0104c6"/>
<rect x="457.40" y="355.42" width="5.24" height="18.76" fill="#0104d2"/>
<rect x="462.03" y="355.42" width="5.24" height="18.76" fill="#0104cd"/>
<rect x="466.67" y="355.42" width="5.24" height="18.76" fill="#0104c6"/>
<rect x="471.30" y="355.42" width="5.24" height="18.76" fill="#0104be"/>
<rect x="475.94" y="355.42" width="5.24" height="18.76" fill="#0104c5"/>
<rect x="480.58" y="355.42" width="5.24" height="18.76" fill="#0104c2"/>
<rect x="485.21" y="355.42" width="5.24" height="18.76" fill="#0104d3"/>
<rect x="489.85" y="355.42" width="5.24" height="18.76" fill="#0104c3"/>
<rect x="494.48" y="355.42" width="5.24" height="18.76" fill="#0104cf"/>
<rect x="499.12" y="355.42" width="5.24" height="18.76" fill="#0104bb"/>
<rect x="503.76" y="355.42" width="5.24" height="18.76" fill="#0104bd"/>
<rect x="508.39" y="355.42" width="5.24" height="18.76" fill="#0104c4"/>
<rect x="513.03" y="355.42" width="5.24" height="18.76" fill="#0104c5"/>
<rect x="517.66" y="355.42" width="4.64" height="18.76" fill="#0104c5"/>
<rect x="290.50" y="373.68" width="5.24" height="18.76" fill="#011ff2"/>
<rect x="295.14" y="373.68" width="5.24" height="18.76" fill="#0123f2"/>
<rect x="299.77" y="373.68" width="5.24" height="18.76" fill="#0126f2"/>
<rect x="304.41" y="373.68" width="5.24" height="18.76" fill="#0150f2"/>
<rect x="309.04" y="373.68" width="5.24" height="18.76" fill="#0126f2"/>
<rect x="313.68" y="373.68" width="5.24" height="18.76" fill="#0122f2"/>
<rect x="318.32" y="373.68" width="5.24" height="18.76" fill="#0123f2"/>
<rect x="322.95" y="373.68" width="5.24" height="18.76" fill="#0124f2"/>
<rect x="327.59" y="373.68" width="5.24" height="18.76" fill="#011ef2"/>
<rect x="332.22" y="373.68" width="5.24" height="18.76" fill="#0155f2"/>
<rect x="336.86" y="373.68" width="5.24" height="18.76" fill="#0155f2"/>
<rect x="341.50" y="373.68" width="5.24" height="18.76" fill="#011bf2"/>
<rect x="346.13" y="373.68" width="5.24" height="18.76" fill="#0128f2"/>
<rect x="350.77" y="373.68" width="5.24" height="18.76" fill="#0128f2"/>
<rect x="355.40" y="373.68" width="5.24" height="18.76" fill="#0123f2"/>
<rect x="360.04" y="373.68" width="5.24" height="18.76" fill="#011af2"/>
<rect x="364.68" y="373.68" width="5.24" height="18.76" fill="#0154f2"/>
<rect x="369.31" y="373.68" width="5.24" height="18.76" fill="#011cf2"/>
<rect x="373.95" y="373.68" width="5.24" height="18.76" fill="#0128f2"/>
<rect x="378.58" y="373.68" width="5.24" height="18.76" fill="#0150f2"/>
<rect x="383.22" y="373.68" width="5.24" height="18.76" fill="#011af2"/>
<rect x="387.86" y="373.68" width="5.24" height="18.76" fill="#011cf2"/>
<rect x="392.49" y="373.68" width="5.24" height="18.76" fill="#0150f2"/>
<rect x="397.13" y="373.68" width="5.24" height="18.76" fill="#0122f2"/>
<rect x="401.76" y="373.68" width="5.24" height="18.76" fill="#0125f2"/>
<rect x="406.40" y="373.68" width="5.24" height="18.76" fill="#0128f2"/>
<rect x="411.04" y="373.68" width="5.24" height="18.76" fill="#014af2"/>
<rect x="415.67" y="373.68" width="5.24" height="18.76" fill="#0147f2"/>
<rect x="420.31" y="373.68" width="5.24" height="18.76" fill="#0128f2"/>
<rect x="424.94" y="373.68" width="5.24" height="18.76" fill="#011af2"/>
<rect x="429.58" y="373.68" width="5.24" height="18.76" fill="#0127f2"/>
<rect x="434.22" y="373.68" width="5.24" height="18.76" fill="#011bf2"/>
<rect x="438.85" y="373.68" width="5.24" height="18.76" fill="#0126f2"/>
<rect x="443.49" y="373.68" width="5.24" height="18.76" fill="#0152f2"/>
<rect x="448.12" y="373.68" width="5.24" height="18.76" fill="#0127f2"/>
<rect x="452.76" y="373.68" width="5.24" height="18.76" fill="#0122f2"/>
<rect x="457.40" y="373.68" width="5.24" height="18.76" fill="#0127f2"/>
<rect x="462.03" y="373.68" width="5.24" height="18.76" fill="#011df2"/>
<rect x="466.67" y="373.68" width="5.24" height="18.76" fill="#0123f2"/>
<rect x="471.30" y="373.68" width="5.24" height="18.76" fill="#014cf2"/>
<rect x="475.94" y="373.68" width="5.24" height="18.76" fill="#0127f2"/>
<rect x="480.58" y="373.68" width="5.24" height="18.76" fill="#0152f2"/>
<rect x="485.21" y="373.68" width="5.24" height="18.76" fill="#0121f2"/>
<rect x="489.85" y="373.68" width="5.24" height="18.76" fill="#0122f2"/>
<rect x="494.48" y="373.68" width="5.24" height="18.76" fill="#0147f2"/>
<rect x="499.12" y="373.68" width="5.24" height="18.76" fill="#011af2"/>
<rect x="503.76" y="373.68" width="5.24" height="18.76" fill="#0122f2"/>
<rect x="508.39" y="373.68" width="5.24" height="18.76" fill="#014ef2"/>
<rect x="513.03" y="373.68" width="5.24" height="18.76" fill="#0127f2"/>
<rect x="517.66" y="373.68" width="4.64" height="18.76" fill="#0122f2"/>
<rect x="290.50" y="391.94" width="5.24" height="18.26" fill="#ff2424"/>
<rect x="295.14" y="391.94" width="5.24" height="18.26" fill="#ffc838"/>
<rect x="299.77" y="391.94" width="5.24" height="18.26" fill="#ff8430"/>
<rect x="304.41" y="391.94" width="5.24" height="18.26" fill="#e01410"/>
<rect x="309.04" y="391.94" width="5.24" height="18.26" fill="#54f284"/>
<rect x="313.68" y="391.94" width="5.24" height="18.26" fill="#54f284"/>
<rect x="318.32" y="391.94" width="5.24" height="18.26" fill="#d4f244"/>
<rect x="322.95" y="391.94" width="5.24" height="18.26" fill="#c8f240"/>
<rect x="327.59" y="391.94" width="5.24" height="18.26" fill="#10b474"/>
<rect x="332.22" y="391.94" width="5.24" height="18.26" fill="#ff80a0"/>
<rect x="336.86" y="391.94" width="5.24" height="18.26" fill="#ff8430"/>
<rect x="341.50" y="391.94" width="5.24" height="18.26" fill="#f2f23c"/>
<rect x="346.13" y="391.94" width="5.24" height="18.26" fill="#ff3208"/>
<rect x="350.77" y="391.94" width="5.24" height="18.26" fill="#94f264"/>
<rect x="355.40" y="391.94" width="5.24" height="18.26" fill="#ff5410"/>
<rect x="360.04" y="391.94" width="5.24" height="18.26" fill="#c8f240"/>
<rect x="364.68" y="391.94" width="5.24" height="18.26" fill="#ff9430"/>
<rect x="369.31" y="391.94" width="5.24" height="18.26" fill="#44f274"/>
<rect x="373.95" y="391.94" width="5.24" height="18.26" fill="#ffc838"/>
<rect x="378.58" y="391.94" width="5.24" height="18.26" fill="#c8f240"/>
<rect x="383.22" y="391.94" width="5.24" height="18.26" fill="#ff80a0"/>
<rect x="387.86" y="391.94" width="5.24" height="18.26" fill="#10d084"/>
<rect x="392.49" y="391.94" width="5.24" height="18.26" fill="#f2f23c"/>
<rect x="397.13" y="391.94" width="5.24" height="18.26" fill="#b00000"/>
<rect x="401.76" y="391.94" width="5.24" height="18.26" fill="#ffa024"/>
<rect x="406.40" y="391.94" width="5.24" height="18.26" fill="#ff6430"/>
<rect x="411.04" y="391.94" width="5.24" height="18.26" fill="#f8ec30"/>
<rect x="415.67" y="391.94" width="5.24" height="18.26" fill="#c40000"/>
<rect x="420.31" y="391.94" width="5.24" height="18.26" fill="#ff8430"/>
<rect x="424.94" y="391.94" width="5.24" height="18.26" fill="#ff5410"/>
<rect x="429.58" y="391.94" width="5.24" height="18.26" fill="#f8ec30"/>
<rect x="434.22" y="391.94" width="5.24" height="18.26" fill="#f2f23c"/>
<rect x="438.85" y="391.94" width="5.24" height="18.26" fill="#e00450"/>
<rect x="443.49" y="391.94" width="5.24" height="18.26" fill="#10c4a4"/>
<rect x="448.12" y="391.94" width="5.24" height="18.26" fill="#ff5410"/>
<rect x="452.76" y="391.94" width="5.24" height="18.26" fill="#ff5410"/>
<rect x="457.40" y="391.94" width="5.24" height="18.26" fill="#f8ec30"/>
<rect x="462.03" y="391.94" width="5.24" height="18.26" fill="#f8ec30"/>
<rect x="466.67" y="391.94" width="5.24" height="18.26" fill="#ffd430"/>
<rect x="471.30" y="391.94" width="5.24" height="18.26" fill="#f2f23c"/>
<rect x="475.94" y="391.94" width="5.24" height="18.26" fill="#f2f23c"/>
<rect x="480.58" y="391.94" width="5.24" height="18.26" fill="#ff9430"/>
<rect x="485.21" y="391.94" width="5.24" height="18.26" fill="#801000"/>
<rect x="489.85" y="391.94" width="5.24" height="18.26" fill="#c8f240"/>
<rect x="494.48" y="391.94" width="5.24" height="18.26" fill="#ff5410"/>
<rect x="499.12" y="391.94" width="5.24" height="18.26" fill="#ff5410"/>
<rect x="503.76" y="391.94" width="5.24" height="18.26" fill="#f2f23c"/>
<rect x="508.39" y="391.94" width="5.24" height="18.26" fill="#f2f23c"/>
<rect x="513.03" y="391.94" width="5.24" height="18.26" fill="#ffc838"/>
<rect x="517.66" y="391.94" width="4.64" height="18.26" fill="#a00420"/>
<rect x="463.80" y="227.60" width="1.10" height="182.60" fill="#f4ecff"/>
<rect x="527.00" y="227.60" width="4.80" height="182.60" fill="url(#gD)"/>
<rect x="16.30" y="228.40" width="3.70" height="163.44" fill="#f4e8ff" opacity="1"/>
<rect x="20.00" y="228.40" width="2.60" height="163.44" fill="#001060" opacity="1"/>
<rect x="20.00" y="228.40" width="232.10" height="1.30" fill="#000c50" opacity="1"/>
<rect x="248.80" y="228.40" width="3.30" height="163.44" fill="#000c48" opacity="1"/>
<rect x="16.30" y="391.90" width="3.70" height="24.20" fill="#fbf9c4" opacity="1"/>
<rect x="16.30" y="410.00" width="239.40" height="6.00" fill="#fbf9c4" opacity="1"/>
<rect x="252.10" y="391.90" width="3.60" height="24.20" fill="#fbf9c4" opacity="1"/>
<rect x="20.00" y="407.60" width="232.10" height="2.40" fill="#fff6c8" opacity="0.45"/>
<rect x="290.50" y="407.70" width="231.80" height="2.50" fill="#fff0d8" opacity="0.45"/>
<rect x="252.10" y="228.40" width="3.60" height="163.44" fill="#f4e8ff" opacity="1"/>
<rect x="261.00" y="228.40" width="2.40" height="95.00" fill="#fbf7d0" opacity="1"/>
<rect x="261.00" y="323.40" width="2.40" height="87.00" fill="#f0e4ff" opacity="1"/>
<rect x="16.30" y="226.50" width="236.00" height="1.90" fill="#f0e6ff" opacity="1"/>
<rect x="290.40" y="227.60" width="2.60" height="164.34" fill="#001070" opacity="1"/>
<rect x="290.40" y="227.60" width="231.80" height="1.20" fill="#000c58" opacity="1"/>
<rect x="519.60" y="227.60" width="2.70" height="164.34" fill="#000c48" opacity="1"/>
<rect x="288.60" y="227.60" width="1.80" height="164.34" fill="#ecd8ff" opacity="1"/>
<rect x="522.40" y="227.60" width="2.20" height="182.60" fill="#f0e4ff" opacity="1"/>
<rect x="531.80" y="227.60" width="2.40" height="95.00" fill="#fbf7d4" opacity="1"/>
<rect x="531.80" y="322.60" width="2.40" height="87.60" fill="#f0e4ff" opacity="1"/>
<rect x="288.00" y="391.90" width="2.50" height="24.00" fill="#fbf9cc" opacity="0.9"/>
<rect x="290.50" y="410.20" width="5.04" height="5.60" fill="#fbf9cc" opacity="0.85"/>
<rect x="295.14" y="410.20" width="5.04" height="5.60" fill="#fbf9cc" opacity="0.85"/>
<rect x="299.77" y="410.20" width="5.04" height="5.60" fill="#fbf9cc" opacity="0.85"/>
<rect x="304.41" y="410.20" width="5.04" height="5.60" fill="#fbf9cc" opacity="0.85"/>
<rect x="318.32" y="410.20" width="5.04" height="5.60" fill="#fbf9cc" opacity="0.85"/>
<rect x="322.95" y="410.20" width="5.04" height="5.60" fill="#fbf9cc" opacity="0.85"/>
<rect x="336.86" y="410.20" width="5.04" height="5.60" fill="#fbf9cc" opacity="0.85"/>
<rect x="341.50" y="410.20" width="5.04" height="5.60" fill="#fbf9cc" opacity="0.85"/>
<rect x="346.13" y="410.20" width="5.04" height="5.60" fill="#fbf9cc" opacity="0.85"/>
<rect x="350.77" y="410.20" width="5.04" height="5.60" fill="#fbf9cc" opacity="0.85"/>
<rect x="355.40" y="410.20" width="5.04" height="5.60" fill="#fbf9cc" opacity="0.85"/>
<rect x="360.04" y="410.20" width="5.04" height="5.60" fill="#fbf9cc" opacity="0.85"/>
<rect x="364.68" y="410.20" width="5.04" height="5.60" fill="#fbf9cc" opacity="0.85"/>
<rect x="373.95" y="410.20" width="5.04" height="5.60" fill="#fbf9cc" opacity="0.85"/>
<rect x="378.58" y="410.20" width="5.04" height="5.60" fill="#fbf9cc" opacity="0.85"/>
<rect x="392.49" y="410.20" width="5.04" height="5.60" fill="#fbf9cc" opacity="0.85"/>
<rect x="397.13" y="410.20" width="5.04" height="5.60" fill="#fbf9cc" opacity="0.85"/>
<rect x="401.76" y="410.20" width="5.04" height="5.60" fill="#fbf9cc" opacity="0.85"/>
<rect x="406.40" y="410.20" width="5.04" height="5.60" fill="#fbf9cc" opacity="0.85"/>
<rect x="411.04" y="410.20" width="5.04" height="5.60" fill="#fbf9cc" opacity="0.85"/>
<rect x="415.67" y="410.20" width="5.04" height="5.60" fill="#fbf9cc" opacity="0.85"/>
<rect x="420.31" y="410.20" width="5.04" height="5.60" fill="#fbf9cc" opacity="0.85"/>
<rect x="424.94" y="410.20" width="5.04" height="5.60" fill="#fbf9cc" opacity="0.85"/>
<rect x="429.58" y="410.20" width="5.04" height="5.60" fill="#fbf9cc" opacity="0.85"/>
<rect x="434.22" y="410.20" width="5.04" height="5.60" fill="#fbf9cc" opacity="0.85"/>
<rect x="448.12" y="410.20" width="5.04" height="5.60" fill="#fbf9cc" opacity="0.85"/>
<rect x="452.76" y="410.20" width="5.04" height="5.60" fill="#fbf9cc" opacity="0.85"/>
<rect x="457.40" y="410.20" width="5.04" height="5.60" fill="#fbf9cc" opacity="0.85"/>
<rect x="462.03" y="410.20" width="5.04" height="5.60" fill="#fbf9cc" opacity="0.85"/>
<rect x="466.67" y="410.20" width="5.04" height="5.60" fill="#fbf9cc" opacity="0.85"/>
<rect x="471.30" y="410.20" width="5.04" height="5.60" fill="#fbf9cc" opacity="0.85"/>
<rect x="475.94" y="410.20" width="5.04" height="5.60" fill="#fbf9cc" opacity="0.85"/>
<rect x="480.58" y="410.20" width="5.04" height="5.60" fill="#fbf9cc" opacity="0.85"/>
<rect x="485.21" y="410.20" width="5.04" height="5.60" fill="#fbf9cc" opacity="0.85"/>
<rect x="489.85" y="410.20" width="5.04" height="5.60" fill="#fbf9cc" opacity="0.85"/>
<rect x="494.48" y="410.20" width="5.04" height="5.60" fill="#fbf9cc" opacity="0.85"/>
<rect x="499.12" y="410.20" width="5.04" height="5.60" fill="#fbf9cc" opacity="0.85"/>
<rect x="503.76" y="410.20" width="5.04" height="5.60" fill="#fbf9cc" opacity="0.85"/>
<rect x="508.39" y="410.20" width="5.04" height="5.60" fill="#fbf9cc" opacity="0.85"/>
<rect x="513.03" y="410.20" width="5.04" height="5.60" fill="#fbf9cc" opacity="0.85"/>
<rect x="517.66" y="410.20" width="5.04" height="5.60" fill="#fbf9cc" opacity="0.85"/>
<rect x="55.60" y="244.00" width="88.00" height="38.60" fill="#000450" opacity="0.42"/>
<rect x="55.60" y="282.60" width="40.50" height="26.40" fill="#000450" opacity="0.42"/>
<rect x="55.60" y="309.00" width="96.80" height="12.40" fill="#000450" opacity="0.42"/>
<rect x="312.80" y="243.80" width="87.60" height="26.60" fill="#000450" opacity="0.42"/>
<rect x="312.80" y="270.40" width="41.00" height="26.00" fill="#000450" opacity="0.42"/>
</g>
<g filter="url(#tsoft)">
<text x="57.3" y="62.00" fill="#f4f428" font-family="'Liberation Serif','DejaVu Serif',serif" font-weight="bold" font-size="10.75" stroke="#f4f428" stroke-width="0.22">EQs declusterd by</text>
<text x="57.3" y="74.90" fill="#f4f428" font-family="'Liberation Serif','DejaVu Serif',serif" font-weight="bold" font-size="10.75" stroke="#f4f428" stroke-width="0.22">Reasenberg, 1985</text>
<text x="57.3" y="87.80" fill="#f4f428" font-family="'Liberation Serif','DejaVu Serif',serif" font-weight="bold" font-size="10.75" stroke="#f4f428" stroke-width="0.22">All anomalies-EQs</text>
<text x="57.3" y="100.70" fill="#f4f428" font-family="'Liberation Serif','DejaVu Serif',serif" font-weight="bold" font-size="10.75" stroke="#f4f428" stroke-width="0.22"><tspan font-style="italic">d</tspan> = 1.7</text>
<text x="57.3" y="113.60" fill="#f4f428" font-family="'Liberation Serif','DejaVu Serif',serif" font-weight="bold" font-size="10.75" stroke="#f4f428" stroke-width="0.22"><tspan font-style="italic">n</tspan> = 12.5</text>
<text x="57.3" y="126.50" fill="#f4f428" font-family="'Liberation Serif','DejaVu Serif',serif" font-weight="bold" font-size="10.75" stroke="#f4f428" stroke-width="0.22">Overcounting = 1.36</text>
<text x="317.2" y="68.30" fill="#f4f428" font-family="'Liberation Serif','DejaVu Serif',serif" font-weight="bold" font-size="10.75" stroke="#f4f428" stroke-width="0.22">No EQs decluster</text>
<text x="317.2" y="81.20" fill="#f4f428" font-family="'Liberation Serif','DejaVu Serif',serif" font-weight="bold" font-size="10.75" stroke="#f4f428" stroke-width="0.22">All anomalies-EQs</text>
<text x="317.2" y="94.10" fill="#f4f428" font-family="'Liberation Serif','DejaVu Serif',serif" font-weight="bold" font-size="10.75" stroke="#f4f428" stroke-width="0.22"><tspan font-style="italic">d</tspan> = 2.4</text>
<text x="317.2" y="107.00" fill="#f4f428" font-family="'Liberation Serif','DejaVu Serif',serif" font-weight="bold" font-size="10.75" stroke="#f4f428" stroke-width="0.22"><tspan font-style="italic">n</tspan> = 17.6</text>
<text x="317.2" y="119.90" fill="#f4f428" font-family="'Liberation Serif','DejaVu Serif',serif" font-weight="bold" font-size="10.75" stroke="#f4f428" stroke-width="0.22">Overcounting = 1.68</text>
<rect x="55.50" y="245.70" width="87.50" height="10.10" fill="#0a1230" opacity="0.95" filter="url(#glow)"/>
<rect x="55.50" y="257.90" width="80.50" height="12.00" fill="#000870" opacity="0.6" filter="url(#glow)"/>
<rect x="55.50" y="271.50" width="89.00" height="10.10" fill="#0a1230" opacity="0.95" filter="url(#glow)"/>
<rect x="55.50" y="283.70" width="33.60" height="12.00" fill="#000870" opacity="0.6" filter="url(#glow)"/>
<rect x="55.50" y="296.60" width="39.60" height="12.00" fill="#000870" opacity="0.6" filter="url(#glow)"/>
<rect x="55.50" y="310.20" width="96.70" height="10.50" fill="#0a1238" opacity="0.9" filter="url(#glow)"/>
<text x="57.3" y="254.00" fill="#fff0c4" font-family="'Liberation Serif','DejaVu Serif',serif" font-weight="bold" font-size="10.75" stroke="#fff0c4" stroke-width="0.22">EQs declusterd by</text>
<text x="57.3" y="266.90" fill="#e4ccff" font-family="'Liberation Serif','DejaVu Serif',serif" font-weight="bold" font-size="10.75" stroke="#e4ccff" stroke-width="0.22">Urhammer, 1986</text>
<text x="57.3" y="279.80" fill="#fff0c4" font-family="'Liberation Serif','DejaVu Serif',serif" font-weight="bold" font-size="10.75" stroke="#fff0c4" stroke-width="0.22">All anomalies-EQs</text>
<text x="57.3" y="292.70" fill="#e4ccff" font-family="'Liberation Serif','DejaVu Serif',serif" font-weight="bold" font-size="10.75" stroke="#e4ccff" stroke-width="0.22"><tspan font-style="italic">d</tspan> = 1.9</text>
<text x="57.3" y="305.60" fill="#e4ccff" font-family="'Liberation Serif','DejaVu Serif',serif" font-weight="bold" font-size="10.75" stroke="#e4ccff" stroke-width="0.22"><tspan font-style="italic">n</tspan> = 13.4</text>
<text x="57.3" y="318.50" fill="#fff0c4" font-family="'Liberation Serif','DejaVu Serif',serif" font-weight="bold" font-size="10.75" stroke="#fff0c4" stroke-width="0.22">Overcounting = 1.41</text>
<rect x="313.20" y="245.00" width="86.00" height="12.00" fill="#0a1230" opacity="0.95" filter="url(#glow)"/>
<rect x="313.20" y="257.00" width="86.70" height="13.40" fill="#000870" opacity="0.6" filter="url(#glow)"/>
<rect x="315.00" y="271.80" width="33.30" height="9.20" fill="#0a1230" opacity="0.9" filter="url(#glow)"/>
<rect x="315.00" y="284.70" width="39.30" height="9.70" fill="#0a1230" opacity="0.9" filter="url(#glow)"/>
<text x="317.2" y="254.00" fill="#fff0c4" font-family="'Liberation Serif','DejaVu Serif',serif" font-weight="bold" font-size="10.75" stroke="#fff0c4" stroke-width="0.22">No EQs decluster</text>
<text x="317.2" y="266.90" fill="#e4ccff" font-family="'Liberation Serif','DejaVu Serif',serif" font-weight="bold" font-size="10.75" stroke="#e4ccff" stroke-width="0.22">Max (magnitude)</text>
<text x="317.2" y="279.80" fill="#fff0c4" font-family="'Liberation Serif','DejaVu Serif',serif" font-weight="bold" font-size="10.75" stroke="#fff0c4" stroke-width="0.22"><tspan font-style="italic">d</tspan> = 1.8</text>
<text x="317.2" y="292.70" fill="#fff0c4" font-family="'Liberation Serif','DejaVu Serif',serif" font-weight="bold" font-size="10.75" stroke="#fff0c4" stroke-width="0.22"><tspan font-style="italic">n</tspan> = 13.9</text>
<text x="140.7" y="12.0" text-anchor="middle" fill="#000" font-family="'Liberation Serif','DejaVu Serif',serif" font-weight="bold" font-size="4.45" stroke="#000" stroke-width="0.1">a.: 5,292/63,178; number pe: 11,301 (A:3,678 B:3,792 C:3,830); EQs with a.: 1,139/2,199 (M≥5.3), <tspan font-style="italic">k</tspan><tspan font-size="3" dy="0.8">0</tspan><tspan dy="-0.8"> = 2.5; </tspan><tspan font-style="italic">k</tspan><tspan font-size="3" dy="0.8">0rr</tspan><tspan dy="-0.8"> = 0</tspan></text>
<text x="140.4" y="18.0" text-anchor="middle" fill="#000" font-family="'Liberation Serif','DejaVu Serif',serif" font-weight="bold" font-size="4.45" stroke="#000" stroke-width="0.1"><tspan font-style="italic">p</tspan><tspan font-size="3" dy="0.8">Next</tspan><tspan dy="-0.8">: 28; N</tspan><tspan font-size="3" dy="0.8">min</tspan><tspan dy="-0.8">: 120; N</tspan><tspan font-size="3" dy="0.8">simul</tspan><tspan dy="-0.8">: 46; E</tspan><tspan font-size="3" dy="0.8">SZ</tspan><tspan dy="-0.8">: 1.2 × 10</tspan><tspan font-size="3" dy="-1.4">10</tspan><tspan dy="1.4">J; S/N: 0.4; S/st: 2.1; <tspan font-style="italic">D</tspan></tspan><tspan font-size="3" dy="0.8">med</tspan><tspan dy="-0.8">/<tspan font-style="italic">Ds</tspan>: 1.8</tspan></text>
<text x="411.7" y="12.0" text-anchor="middle" fill="#000" font-family="'Liberation Serif','DejaVu Serif',serif" font-weight="bold" font-size="4.45" stroke="#000" stroke-width="0.1">a.: 7,588/63,178; number pe: 12,730 (A:4,007 B:4,424 C:4,298); EQs with a.: 1,471/2,868 (M≥5.3), <tspan font-style="italic">k</tspan><tspan font-size="3" dy="0.8">0</tspan><tspan dy="-0.8"> = 2.5; </tspan><tspan font-style="italic">k</tspan><tspan font-size="3" dy="0.8">0rr</tspan><tspan dy="-0.8"> = 0</tspan></text>
<text x="411.2" y="18.0" text-anchor="middle" fill="#000" font-family="'Liberation Serif','DejaVu Serif',serif" font-weight="bold" font-size="4.45" stroke="#000" stroke-width="0.1"><tspan font-style="italic">p</tspan><tspan font-size="3" dy="0.8">Next</tspan><tspan dy="-0.8">: 24; N</tspan><tspan font-size="3" dy="0.8">min</tspan><tspan dy="-0.8">: 218; N</tspan><tspan font-size="3" dy="0.8">simul</tspan><tspan dy="-0.8">: 94; E</tspan><tspan font-size="3" dy="0.8">SZ</tspan><tspan dy="-0.8">: 1.1 × 10</tspan><tspan font-size="3" dy="-1.4">10</tspan><tspan dy="1.4">J; S/N: 0.5; S/st: 3.5; <tspan font-style="italic">D</tspan></tspan><tspan font-size="3" dy="0.8">med</tspan><tspan dy="-0.8">/<tspan font-style="italic">Ds</tspan>: 2.6</tspan></text>
<text x="138.7" y="220.0" text-anchor="middle" fill="#000" font-family="'Liberation Serif','DejaVu Serif',serif" font-weight="bold" font-size="4.45" stroke="#000" stroke-width="0.1">a.: 7,368/63,178; number pe: 10,355 (A:3,358 B:3,459 C:3,537); EQs with a.: 1,047/2,051 (M≥5.3), <tspan font-style="italic">k</tspan><tspan font-size="3" dy="0.8">0</tspan><tspan dy="-0.8"> = 2.5; </tspan><tspan font-style="italic">k</tspan><tspan font-size="3" dy="0.8">0rr</tspan><tspan dy="-0.8"> = 0</tspan></text>
<text x="138.0" y="227.0" text-anchor="middle" fill="#28288c" font-family="'Liberation Serif','DejaVu Serif',serif" font-weight="bold" font-size="4.45" stroke="#28288c" stroke-width="0.1"><tspan font-style="italic">p</tspan><tspan font-size="3" dy="0.8">Next</tspan><tspan dy="-0.8">: 4; N</tspan><tspan font-size="3" dy="0.8">min</tspan><tspan dy="-0.8">: 110; N</tspan><tspan font-size="3" dy="0.8">simul</tspan><tspan dy="-0.8">: 53; E</tspan><tspan font-size="3" dy="0.8">SZ</tspan><tspan dy="-0.8">: 1.0 × 10</tspan><tspan font-size="3" dy="-1.4">10</tspan><tspan dy="1.4">J; S/N: 0.4; S/st: 2.4; <tspan font-style="italic">D</tspan></tspan><tspan font-size="3" dy="0.8">med</tspan><tspan dy="-0.8">/<tspan font-style="italic">Ds</tspan>: 2.0</tspan></text>
<text x="411.3" y="219.2" text-anchor="middle" fill="#000" font-family="'Liberation Serif','DejaVu Serif',serif" font-weight="bold" font-size="4.45" stroke="#000" stroke-width="0.1">a.: 7,588/63,178; number pe: 7,588 (A:2,468 B:2,505 C:2,615); EQs with a.: 764/2,868 (M≥5.3), <tspan font-style="italic">k</tspan><tspan font-size="3" dy="0.8">0</tspan><tspan dy="-0.8"> = 2.5; </tspan><tspan font-style="italic">k</tspan><tspan font-size="3" dy="0.8">0rr</tspan><tspan dy="-0.8"> = 0</tspan></text>
<text x="412.0" y="226.1" text-anchor="middle" fill="#28288c" font-family="'Liberation Serif','DejaVu Serif',serif" font-weight="bold" font-size="4.45" stroke="#28288c" stroke-width="0.1"><tspan font-style="italic">p</tspan><tspan font-size="3" dy="0.8">Next</tspan><tspan dy="-0.8">: 43; N</tspan><tspan font-size="3" dy="0.8">min</tspan><tspan dy="-0.8">: 74; N</tspan><tspan font-size="3" dy="0.8">simul</tspan><tspan dy="-0.8">: 35; E</tspan><tspan font-size="3" dy="0.8">SZ</tspan><tspan dy="-0.8">: 2.6 × 10</tspan><tspan font-size="3" dy="-1.4">10</tspan><tspan dy="1.4">J; S/N: 0.5; S/st: 2.1; <tspan font-style="italic">D</tspan></tspan><tspan font-size="3" dy="0.8">med</tspan><tspan dy="-0.8">/<tspan font-style="italic">Ds</tspan>: 1.7</tspan></text>
<text x="24.3" y="12.9" text-anchor="middle" fill="#000" font-family="'Liberation Sans','DejaVu Sans',sans-serif" font-weight="bold" font-size="5">A</text>
<text x="299.5" y="13.1" text-anchor="middle" fill="#000" font-family="'Liberation Sans','DejaVu Sans',sans-serif" font-weight="bold" font-size="5">B</text>
<text x="24.8" y="223.4" text-anchor="middle" fill="#000" font-family="'Liberation Sans','DejaVu Sans',sans-serif" font-weight="bold" font-size="5">C</text>
<text x="299.3" y="223.4" text-anchor="middle" fill="#000" font-family="'Liberation Sans','DejaVu Sans',sans-serif" font-weight="bold" font-size="5">D</text>
<text x="19.00" y="210.70" text-anchor="middle" fill="#808080" font-family="'Liberation Sans','DejaVu Sans',sans-serif" font-size="3.15">−90</text>
<text x="42.57" y="210.70" text-anchor="middle" fill="#808080" font-family="'Liberation Sans','DejaVu Sans',sans-serif" font-size="3.15">−78</text>
<text x="66.14" y="210.70" text-anchor="middle" fill="#808080" font-family="'Liberation Sans','DejaVu Sans',sans-serif" font-size="3.15">−66</text>
<text x="89.71" y="210.70" text-anchor="middle" fill="#808080" font-family="'Liberation Sans','DejaVu Sans',sans-serif" font-size="3.15">−54</text>
<text x="113.28" y="210.70" text-anchor="middle" fill="#808080" font-family="'Liberation Sans','DejaVu Sans',sans-serif" font-size="3.15">−42</text>
<text x="136.85" y="210.70" text-anchor="middle" fill="#808080" font-family="'Liberation Sans','DejaVu Sans',sans-serif" font-size="3.15">−30</text>
<text x="160.42" y="210.70" text-anchor="middle" fill="#808080" font-family="'Liberation Sans','DejaVu Sans',sans-serif" font-size="3.15">−18</text>
<text x="183.99" y="210.70" text-anchor="middle" fill="#808080" font-family="'Liberation Sans','DejaVu Sans',sans-serif" font-size="3.15">−6</text>
<text x="207.56" y="210.70" text-anchor="middle" fill="#808080" font-family="'Liberation Sans','DejaVu Sans',sans-serif" font-size="3.15">6</text>
<text x="231.13" y="210.70" text-anchor="middle" fill="#808080" font-family="'Liberation Sans','DejaVu Sans',sans-serif" font-size="3.15">18</text>
<text x="254.70" y="210.70" text-anchor="middle" fill="#808080" font-family="'Liberation Sans','DejaVu Sans',sans-serif" font-size="3.15">30</text>
<text x="17.40" y="22.40" text-anchor="end" fill="#808080" font-family="'Liberation Sans','DejaVu Sans',sans-serif" font-size="3.15">22.4</text>
<text x="17.40" y="59.38" text-anchor="end" fill="#808080" font-family="'Liberation Sans','DejaVu Sans',sans-serif" font-size="3.15">20.0</text>
<text x="17.40" y="96.36" text-anchor="end" fill="#808080" font-family="'Liberation Sans','DejaVu Sans',sans-serif" font-size="3.15">17.3</text>
<text x="17.40" y="133.34" text-anchor="end" fill="#808080" font-family="'Liberation Sans','DejaVu Sans',sans-serif" font-size="3.15">14.1</text>
<text x="17.40" y="170.32" text-anchor="end" fill="#808080" font-family="'Liberation Sans','DejaVu Sans',sans-serif" font-size="3.15">10.0</text>
<text x="17.40" y="207.30" text-anchor="end" fill="#808080" font-family="'Liberation Sans','DejaVu Sans',sans-serif" font-size="3.15">0.0</text>
<text x="136.85" y="214.70" text-anchor="middle" fill="#808080" font-family="'Liberation Sans','DejaVu Sans',sans-serif" font-size="4">Days with respect to the EQ</text>
<text transform="translate(9.80,113.05) rotate(-90)" text-anchor="middle" fill="#808080" font-family="'Liberation Sans','DejaVu Sans',sans-serif" font-size="4">distance from epicenter [degree]</text>
<text x="266.30" y="206.70" fill="#808080" font-family="'Liberation Sans','DejaVu Sans',sans-serif" font-size="3.15">0</text>
<text x="266.30" y="179.70" fill="#808080" font-family="'Liberation Sans','DejaVu Sans',sans-serif" font-size="3.15">0.5</text>
<text x="266.30" y="152.70" fill="#808080" font-family="'Liberation Sans','DejaVu Sans',sans-serif" font-size="3.15">1</text>
<text x="266.30" y="125.70" fill="#808080" font-family="'Liberation Sans','DejaVu Sans',sans-serif" font-size="3.15">1.5</text>
<text x="266.30" y="98.70" fill="#808080" font-family="'Liberation Sans','DejaVu Sans',sans-serif" font-size="3.15">2</text>
<text x="266.30" y="71.70" fill="#808080" font-family="'Liberation Sans','DejaVu Sans',sans-serif" font-size="3.15">2.5</text>
<text x="266.30" y="44.70" fill="#808080" font-family="'Liberation Sans','DejaVu Sans',sans-serif" font-size="3.15">3</text>
<text transform="translate(274.80,113.05) rotate(-90)" text-anchor="middle" fill="#808080" font-family="'Liberation Sans','DejaVu Sans',sans-serif" font-size="4">Anomaly Density [#/degree²]</text>
<text x="291.30" y="207.90" text-anchor="middle" fill="#808080" font-family="'Liberation Sans','DejaVu Sans',sans-serif" font-size="3.15">−90</text>
<text x="314.53" y="207.90" text-anchor="middle" fill="#808080" font-family="'Liberation Sans','DejaVu Sans',sans-serif" font-size="3.15">−78</text>
<text x="337.76" y="207.90" text-anchor="middle" fill="#808080" font-family="'Liberation Sans','DejaVu Sans',sans-serif" font-size="3.15">−66</text>
<text x="360.99" y="207.90" text-anchor="middle" fill="#808080" font-family="'Liberation Sans','DejaVu Sans',sans-serif" font-size="3.15">−54</text>
<text x="384.22" y="207.90" text-anchor="middle" fill="#808080" font-family="'Liberation Sans','DejaVu Sans',sans-serif" font-size="3.15">−42</text>
<text x="407.45" y="207.90" text-anchor="middle" fill="#808080" font-family="'Liberation Sans','DejaVu Sans',sans-serif" font-size="3.15">−30</text>
<text x="430.68" y="207.90" text-anchor="middle" fill="#808080" font-family="'Liberation Sans','DejaVu Sans',sans-serif" font-size="3.15">−18</text>
<text x="453.91" y="207.90" text-anchor="middle" fill="#808080" font-family="'Liberation Sans','DejaVu Sans',sans-serif" font-size="3.15">−6</text>
<text x="477.14" y="207.90" text-anchor="middle" fill="#808080" font-family="'Liberation Sans','DejaVu Sans',sans-serif" font-size="3.15">6</text>
<text x="500.37" y="207.90" text-anchor="middle" fill="#808080" font-family="'Liberation Sans','DejaVu Sans',sans-serif" font-size="3.15">18</text>
<text x="523.60" y="207.90" text-anchor="middle" fill="#808080" font-family="'Liberation Sans','DejaVu Sans',sans-serif" font-size="3.15">30</text>
<text x="289.70" y="21.90" text-anchor="end" fill="#808080" font-family="'Liberation Sans','DejaVu Sans',sans-serif" font-size="3.15">22.4</text>
<text x="289.70" y="58.42" text-anchor="end" fill="#808080" font-family="'Liberation Sans','DejaVu Sans',sans-serif" font-size="3.15">20.0</text>
<text x="289.70" y="94.94" text-anchor="end" fill="#808080" font-family="'Liberation Sans','DejaVu Sans',sans-serif" font-size="3.15">17.3</text>
<text x="289.70" y="131.46" text-anchor="end" fill="#808080" font-family="'Liberation Sans','DejaVu Sans',sans-serif" font-size="3.15">14.1</text>
<text x="289.70" y="167.98" text-anchor="end" fill="#808080" font-family="'Liberation Sans','DejaVu Sans',sans-serif" font-size="3.15">10.0</text>
<text x="289.70" y="204.50" text-anchor="end" fill="#808080" font-family="'Liberation Sans','DejaVu Sans',sans-serif" font-size="3.15">0.0</text>
<text x="407.45" y="211.90" text-anchor="middle" fill="#808080" font-family="'Liberation Sans','DejaVu Sans',sans-serif" font-size="4">Days with respect to the EQ</text>
<text transform="translate(282.10,111.40) rotate(-90)" text-anchor="middle" fill="#808080" font-family="'Liberation Sans','DejaVu Sans',sans-serif" font-size="4">distance from epicenter [degree]</text>
<text x="534.50" y="203.90" fill="#808080" font-family="'Liberation Sans','DejaVu Sans',sans-serif" font-size="3.15">0</text>
<text x="534.50" y="175.50" fill="#808080" font-family="'Liberation Sans','DejaVu Sans',sans-serif" font-size="3.15">0.5</text>
<text x="534.50" y="147.10" fill="#808080" font-family="'Liberation Sans','DejaVu Sans',sans-serif" font-size="3.15">1</text>
<text x="534.50" y="118.70" fill="#808080" font-family="'Liberation Sans','DejaVu Sans',sans-serif" font-size="3.15">1.5</text>
<text x="534.50" y="90.30" fill="#808080" font-family="'Liberation Sans','DejaVu Sans',sans-serif" font-size="3.15">2</text>
<text x="534.50" y="61.90" fill="#808080" font-family="'Liberation Sans','DejaVu Sans',sans-serif" font-size="3.15">2.5</text>
<text x="534.50" y="33.50" fill="#808080" font-family="'Liberation Sans','DejaVu Sans',sans-serif" font-size="3.15">3</text>
<text transform="translate(543.00,111.40) rotate(-90)" text-anchor="middle" fill="#808080" font-family="'Liberation Sans','DejaVu Sans',sans-serif" font-size="4">Anomaly Density [#/degree²]</text>
<text x="20.00" y="415.20" text-anchor="middle" fill="#808080" font-family="'Liberation Sans','DejaVu Sans',sans-serif" font-size="3.15">−90</text>
<text x="43.21" y="415.20" text-anchor="middle" fill="#808080" font-family="'Liberation Sans','DejaVu Sans',sans-serif" font-size="3.15">−78</text>
<text x="66.42" y="415.20" text-anchor="middle" fill="#808080" font-family="'Liberation Sans','DejaVu Sans',sans-serif" font-size="3.15">−66</text>
<text x="89.63" y="415.20" text-anchor="middle" fill="#808080" font-family="'Liberation Sans','DejaVu Sans',sans-serif" font-size="3.15">−54</text>
<text x="112.84" y="415.20" text-anchor="middle" fill="#808080" font-family="'Liberation Sans','DejaVu Sans',sans-serif" font-size="3.15">−42</text>
<text x="136.05" y="415.20" text-anchor="middle" fill="#808080" font-family="'Liberation Sans','DejaVu Sans',sans-serif" font-size="3.15">−30</text>
<text x="159.26" y="415.20" text-anchor="middle" fill="#808080" font-family="'Liberation Sans','DejaVu Sans',sans-serif" font-size="3.15">−18</text>
<text x="182.47" y="415.20" text-anchor="middle" fill="#808080" font-family="'Liberation Sans','DejaVu Sans',sans-serif" font-size="3.15">−6</text>
<text x="205.68" y="415.20" text-anchor="middle" fill="#808080" font-family="'Liberation Sans','DejaVu Sans',sans-serif" font-size="3.15">6</text>
<text x="228.89" y="415.20" text-anchor="middle" fill="#808080" font-family="'Liberation Sans','DejaVu Sans',sans-serif" font-size="3.15">18</text>
<text x="252.10" y="415.20" text-anchor="middle" fill="#808080" font-family="'Liberation Sans','DejaVu Sans',sans-serif" font-size="3.15">30</text>
<text x="18.40" y="230.20" text-anchor="end" fill="#808080" font-family="'Liberation Sans','DejaVu Sans',sans-serif" font-size="3.15">22.4</text>
<text x="18.40" y="266.52" text-anchor="end" fill="#808080" font-family="'Liberation Sans','DejaVu Sans',sans-serif" font-size="3.15">20.0</text>
<text x="18.40" y="302.84" text-anchor="end" fill="#808080" font-family="'Liberation Sans','DejaVu Sans',sans-serif" font-size="3.15">17.3</text>
<text x="18.40" y="339.16" text-anchor="end" fill="#808080" font-family="'Liberation Sans','DejaVu Sans',sans-serif" font-size="3.15">14.1</text>
<text x="18.40" y="375.48" text-anchor="end" fill="#808080" font-family="'Liberation Sans','DejaVu Sans',sans-serif" font-size="3.15">10.0</text>
<text x="18.40" y="411.80" text-anchor="end" fill="#808080" font-family="'Liberation Sans','DejaVu Sans',sans-serif" font-size="3.15">0.0</text>
<text x="136.05" y="419.20" text-anchor="middle" fill="#808080" font-family="'Liberation Sans','DejaVu Sans',sans-serif" font-size="4">Days with respect to the EQ</text>
<text transform="translate(10.80,319.20) rotate(-90)" text-anchor="middle" fill="#808080" font-family="'Liberation Sans','DejaVu Sans',sans-serif" font-size="4">distance from epicenter [degree]</text>
<text x="262.60" y="411.20" fill="#808080" font-family="'Liberation Sans','DejaVu Sans',sans-serif" font-size="3.15">0</text>
<text x="262.60" y="384.80" fill="#808080" font-family="'Liberation Sans','DejaVu Sans',sans-serif" font-size="3.15">0.5</text>
<text x="262.60" y="358.40" fill="#808080" font-family="'Liberation Sans','DejaVu Sans',sans-serif" font-size="3.15">1</text>
<text x="262.60" y="332.00" fill="#808080" font-family="'Liberation Sans','DejaVu Sans',sans-serif" font-size="3.15">1.5</text>
<text x="262.60" y="305.60" fill="#808080" font-family="'Liberation Sans','DejaVu Sans',sans-serif" font-size="3.15">2</text>
<text x="262.60" y="279.20" fill="#808080" font-family="'Liberation Sans','DejaVu Sans',sans-serif" font-size="3.15">2.5</text>
<text x="262.60" y="252.80" fill="#808080" font-family="'Liberation Sans','DejaVu Sans',sans-serif" font-size="3.15">3</text>
<text transform="translate(271.10,319.20) rotate(-90)" text-anchor="middle" fill="#808080" font-family="'Liberation Sans','DejaVu Sans',sans-serif" font-size="4">Anomaly Density [#/degree²]</text>
<text x="290.50" y="415.40" text-anchor="middle" fill="#808080" font-family="'Liberation Sans','DejaVu Sans',sans-serif" font-size="3.15">−90</text>
<text x="313.68" y="415.40" text-anchor="middle" fill="#808080" font-family="'Liberation Sans','DejaVu Sans',sans-serif" font-size="3.15">−78</text>
<text x="336.86" y="415.40" text-anchor="middle" fill="#808080" font-family="'Liberation Sans','DejaVu Sans',sans-serif" font-size="3.15">−66</text>
<text x="360.04" y="415.40" text-anchor="middle" fill="#808080" font-family="'Liberation Sans','DejaVu Sans',sans-serif" font-size="3.15">−54</text>
<text x="383.22" y="415.40" text-anchor="middle" fill="#808080" font-family="'Liberation Sans','DejaVu Sans',sans-serif" font-size="3.15">−42</text>
<text x="406.40" y="415.40" text-anchor="middle" fill="#808080" font-family="'Liberation Sans','DejaVu Sans',sans-serif" font-size="3.15">−30</text>
<text x="429.58" y="415.40" text-anchor="middle" fill="#808080" font-family="'Liberation Sans','DejaVu Sans',sans-serif" font-size="3.15">−18</text>
<text x="452.76" y="415.40" text-anchor="middle" fill="#808080" font-family="'Liberation Sans','DejaVu Sans',sans-serif" font-size="3.15">−6</text>
<text x="475.94" y="415.40" text-anchor="middle" fill="#808080" font-family="'Liberation Sans','DejaVu Sans',sans-serif" font-size="3.15">6</text>
<text x="499.12" y="415.40" text-anchor="middle" fill="#808080" font-family="'Liberation Sans','DejaVu Sans',sans-serif" font-size="3.15">18</text>
<text x="522.30" y="415.40" text-anchor="middle" fill="#808080" font-family="'Liberation Sans','DejaVu Sans',sans-serif" font-size="3.15">30</text>
<text x="288.90" y="229.40" text-anchor="end" fill="#808080" font-family="'Liberation Sans','DejaVu Sans',sans-serif" font-size="3.15">22.4</text>
<text x="288.90" y="265.92" text-anchor="end" fill="#808080" font-family="'Liberation Sans','DejaVu Sans',sans-serif" font-size="3.15">20.0</text>
<text x="288.90" y="302.44" text-anchor="end" fill="#808080" font-family="'Liberation Sans','DejaVu Sans',sans-serif" font-size="3.15">17.3</text>
<text x="288.90" y="338.96" text-anchor="end" fill="#808080" font-family="'Liberation Sans','DejaVu Sans',sans-serif" font-size="3.15">14.1</text>
<text x="288.90" y="375.48" text-anchor="end" fill="#808080" font-family="'Liberation Sans','DejaVu Sans',sans-serif" font-size="3.15">10.0</text>
<text x="288.90" y="412.00" text-anchor="end" fill="#808080" font-family="'Liberation Sans','DejaVu Sans',sans-serif" font-size="3.15">0.0</text>
<text x="406.40" y="419.40" text-anchor="middle" fill="#808080" font-family="'Liberation Sans','DejaVu Sans',sans-serif" font-size="4">Days with respect to the EQ</text>
<text transform="translate(281.30,318.90) rotate(-90)" text-anchor="middle" fill="#808080" font-family="'Liberation Sans','DejaVu Sans',sans-serif" font-size="4">distance from epicenter [degree]</text>
<text x="533.40" y="411.40" fill="#808080" font-family="'Liberation Sans','DejaVu Sans',sans-serif" font-size="3.15">0</text>
<text x="533.40" y="394.60" fill="#808080" font-family="'Liberation Sans','DejaVu Sans',sans-serif" font-size="3.15">0.2</text>
<text x="533.40" y="377.80" fill="#808080" font-family="'Liberation Sans','DejaVu Sans',sans-serif" font-size="3.15">0.4</text>
<text x="533.40" y="361.00" fill="#808080" font-family="'Liberation Sans','DejaVu Sans',sans-serif" font-size="3.15">0.6</text>
<text x="533.40" y="344.20" fill="#808080" font-family="'Liberation Sans','DejaVu Sans',sans-serif" font-size="3.15">0.8</text>
<text x="533.40" y="327.40" fill="#808080" font-family="'Liberation Sans','DejaVu Sans',sans-serif" font-size="3.15">1</text>
<text x="533.40" y="310.60" fill="#808080" font-family="'Liberation Sans','DejaVu Sans',sans-serif" font-size="3.15">1.2</text>
<text x="533.40" y="293.80" fill="#808080" font-family="'Liberation Sans','DejaVu Sans',sans-serif" font-size="3.15">1.4</text>
<text x="533.40" y="277.00" fill="#808080" font-family="'Liberation Sans','DejaVu Sans',sans-serif" font-size="3.15">1.6</text>
<text x="533.40" y="260.20" fill="#808080" font-family="'Liberation Sans','DejaVu Sans',sans-serif" font-size="3.15">1.8</text>
<text x="533.40" y="243.40" fill="#808080" font-family="'Liberation Sans','DejaVu Sans',sans-serif" font-size="3.15">2</text>
<text transform="translate(541.90,318.90) rotate(-90)" text-anchor="middle" fill="#808080" font-family="'Liberation Sans','DejaVu Sans',sans-serif" font-size="4">Anomaly Density [#/degree²]</text>
</g>
</svg>
</body>
</html>
